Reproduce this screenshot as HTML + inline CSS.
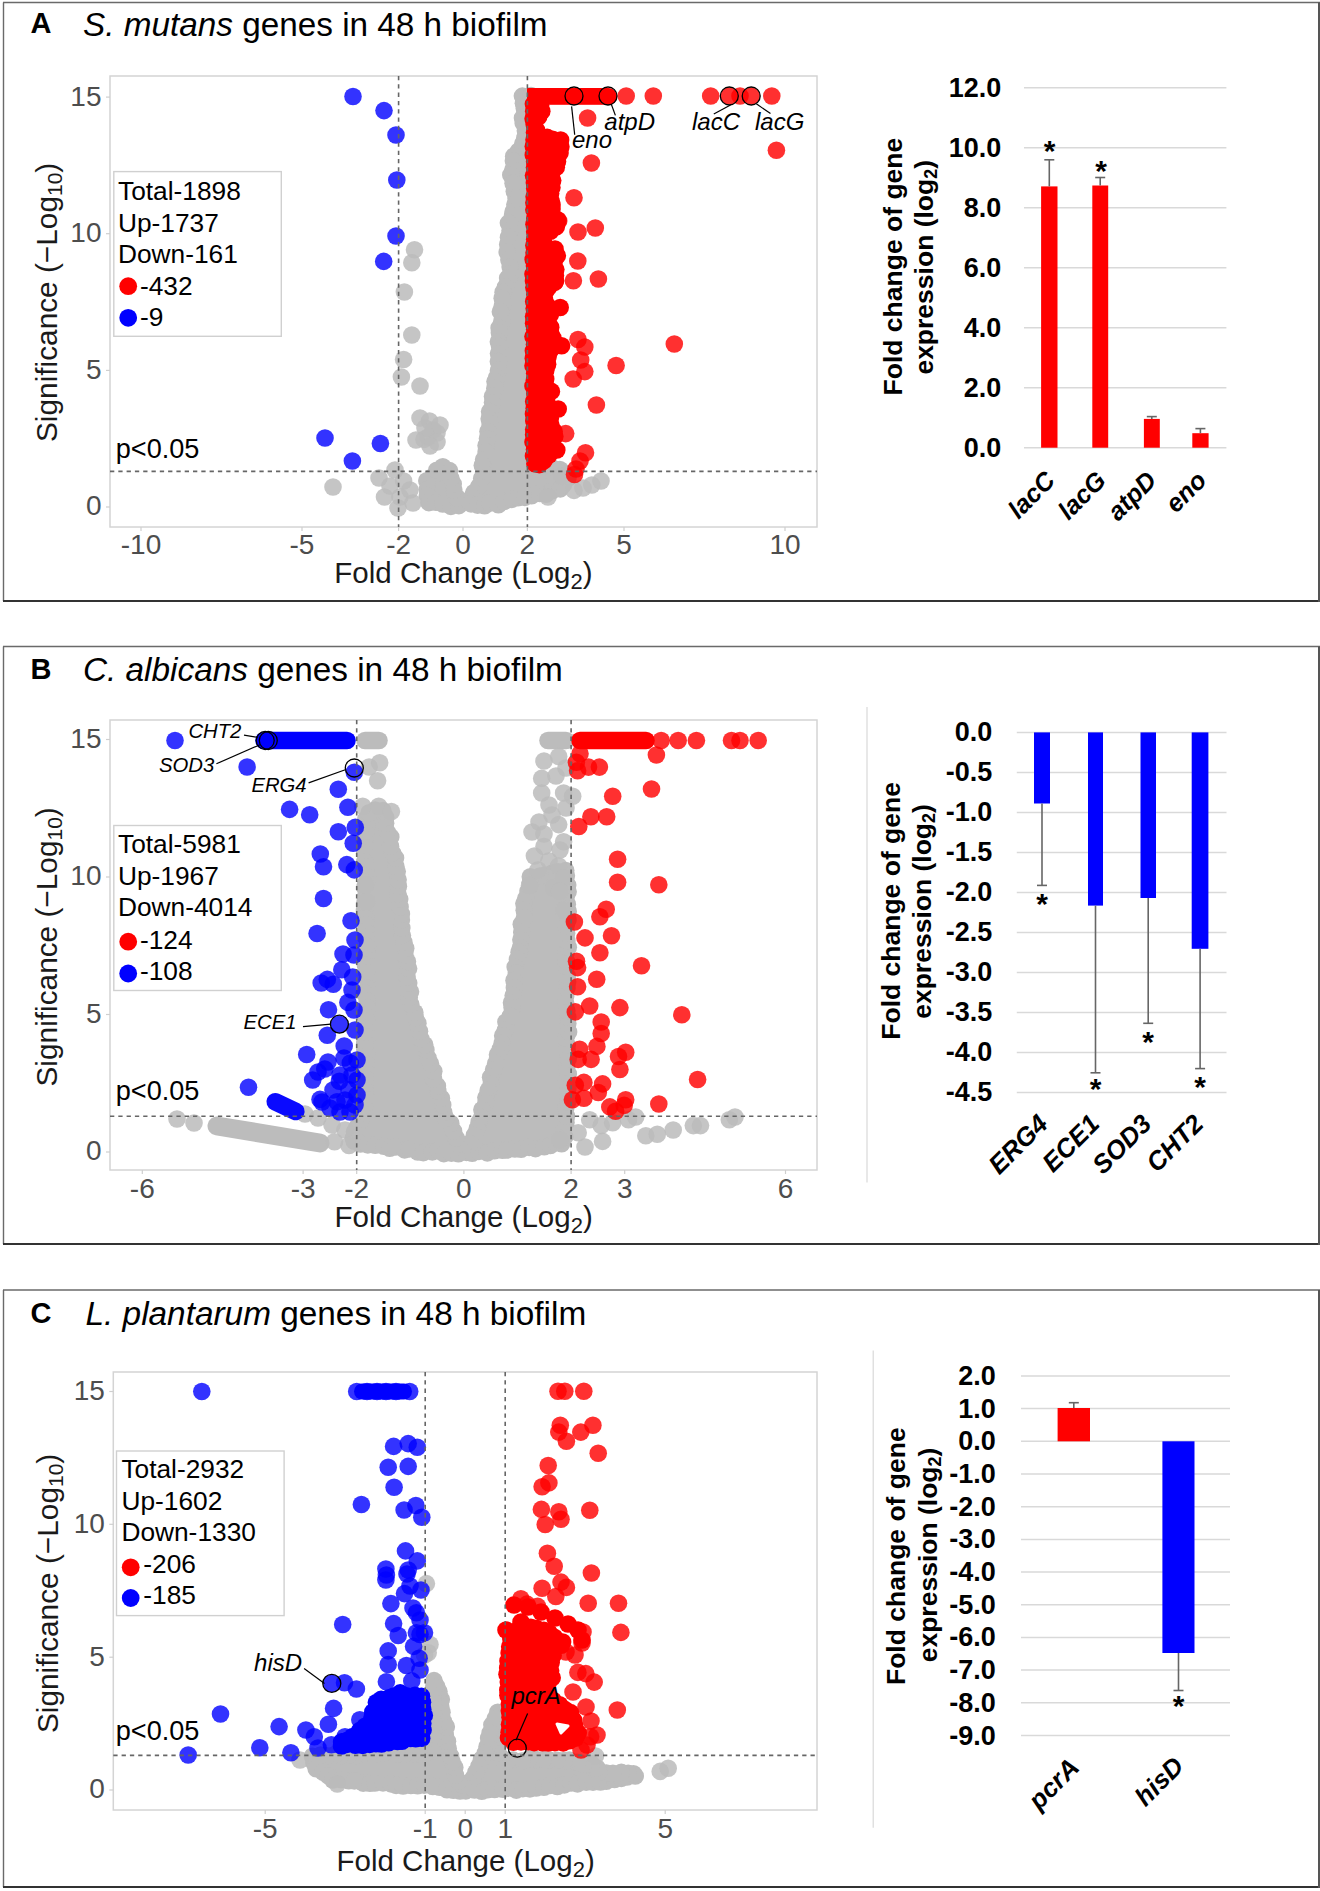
<!DOCTYPE html>
<html><head><meta charset="utf-8"><style>html,body{margin:0;padding:0;background:#fff;width:1320px;height:1891px;overflow:hidden}</style></head>
<body>
<svg width="1320" height="1891" viewBox="0 0 1320 1891" style="display:block;font-family:'Liberation Sans', sans-serif">
<rect width="1320" height="1891" fill="#fff"/>
<line x1="3.0" y1="2.5" x2="1320.0" y2="2.5" stroke="#6a6a6a" stroke-width="1.4"/>
<line x1="3.5" y1="2.5" x2="3.5" y2="601.0" stroke="#6a6a6a" stroke-width="1.4"/>
<line x1="3.0" y1="601.0" x2="1320.0" y2="601.0" stroke="#333" stroke-width="2"/>
<line x1="1319.0" y1="2.5" x2="1319.0" y2="602.0" stroke="#555" stroke-width="2"/>
<text x="30.5" y="33.0" font-size="29" fill="#000" font-weight="bold" >A</text>
<text x="83" y="36.4" font-size="33.3" fill="#000"><tspan font-style="italic">S. mutans</tspan> genes in 48 h biofilm</text>
<clipPath id="cA"><rect x="110" y="76" width="707" height="451"/></clipPath>
<rect x="110.0" y="76.0" width="707.0" height="451.0" fill="none" stroke="#d4d4d4" stroke-width="1.5"/>
<line x1="141.0" y1="527.0" x2="141.0" y2="531.0" stroke="#cfcfcf" stroke-width="1.2"/>
<text x="141.0" y="553.5" font-size="28" fill="#4d4d4d" text-anchor="middle" >-10</text>
<line x1="302.0" y1="527.0" x2="302.0" y2="531.0" stroke="#cfcfcf" stroke-width="1.2"/>
<text x="302.0" y="553.5" font-size="28" fill="#4d4d4d" text-anchor="middle" >-5</text>
<line x1="398.6" y1="527.0" x2="398.6" y2="531.0" stroke="#cfcfcf" stroke-width="1.2"/>
<text x="398.6" y="553.5" font-size="28" fill="#4d4d4d" text-anchor="middle" >-2</text>
<line x1="463.0" y1="527.0" x2="463.0" y2="531.0" stroke="#cfcfcf" stroke-width="1.2"/>
<text x="463.0" y="553.5" font-size="28" fill="#4d4d4d" text-anchor="middle" >0</text>
<line x1="527.4" y1="527.0" x2="527.4" y2="531.0" stroke="#cfcfcf" stroke-width="1.2"/>
<text x="527.4" y="553.5" font-size="28" fill="#4d4d4d" text-anchor="middle" >2</text>
<line x1="624.0" y1="527.0" x2="624.0" y2="531.0" stroke="#cfcfcf" stroke-width="1.2"/>
<text x="624.0" y="553.5" font-size="28" fill="#4d4d4d" text-anchor="middle" >5</text>
<line x1="785.0" y1="527.0" x2="785.0" y2="531.0" stroke="#cfcfcf" stroke-width="1.2"/>
<text x="785.0" y="553.5" font-size="28" fill="#4d4d4d" text-anchor="middle" >10</text>
<line x1="106.0" y1="507.0" x2="110.0" y2="507.0" stroke="#cfcfcf" stroke-width="1.2"/>
<text x="101.5" y="515.4" font-size="28" fill="#4d4d4d" text-anchor="end" >0</text>
<line x1="106.0" y1="370.4" x2="110.0" y2="370.4" stroke="#cfcfcf" stroke-width="1.2"/>
<text x="101.5" y="378.8" font-size="28" fill="#4d4d4d" text-anchor="end" >5</text>
<line x1="106.0" y1="233.7" x2="110.0" y2="233.7" stroke="#cfcfcf" stroke-width="1.2"/>
<text x="101.5" y="242.1" font-size="28" fill="#4d4d4d" text-anchor="end" >10</text>
<line x1="106.0" y1="97.1" x2="110.0" y2="97.1" stroke="#cfcfcf" stroke-width="1.2"/>
<text x="101.5" y="105.5" font-size="28" fill="#4d4d4d" text-anchor="end" >15</text>
<g clip-path="url(#cA)">
<g fill="#bcbcbc"><path d="M431.2,475.4 L426.1,486.4 L427.4,502.1 L440.9,504.1 L457.7,505.5 L458.0,500.9 L455.4,492.3 L455.4,492.1 L448.9,468.5 L442.2,468.1 L431.2,475.4 Z"/><circle cx="432.6" cy="476.7" r="8.8"/><circle cx="426.8" cy="480.7" r="8.8"/><circle cx="427.3" cy="489.5" r="8.8"/><circle cx="427.4" cy="495.4" r="8.8"/><circle cx="428.9" cy="502.6" r="8.8"/><circle cx="436.0" cy="502.3" r="8.8"/><circle cx="442.8" cy="504.0" r="8.8"/><circle cx="450.9" cy="506.4" r="8.8"/><circle cx="458.8" cy="505.6" r="8.8"/><circle cx="457.1" cy="497.8" r="8.8"/><circle cx="453.8" cy="490.1" r="8.8"/><circle cx="453.2" cy="484.0" r="8.8"/><circle cx="451.0" cy="478.7" r="8.8"/><circle cx="449.5" cy="470.6" r="8.8"/><circle cx="442.8" cy="466.7" r="8.8"/><circle cx="436.8" cy="470.2" r="8.8"/></g>
<g fill="#bcbcbc"><path d="M523.1,95.9 L523.9,104.3 L523.9,105.0 L523.9,140.0 L523.9,140.8 L523.8,141.6 L523.6,142.3 L523.3,143.1 L523.0,143.8 L522.6,144.4 L522.1,145.1 L513.6,155.2 L511.0,179.4 L515.7,198.1 L515.8,198.9 L515.9,199.7 L515.9,200.5 L515.8,201.3 L515.6,202.1 L508.9,226.3 L507.4,249.7 L510.1,268.9 L510.2,269.7 L510.2,270.6 L510.1,271.4 L509.9,272.2 L509.6,273.0 L501.9,291.7 L500.6,324.3 L500.6,324.8 L498.6,345.6 L497.2,372.4 L497.1,373.2 L493.8,394.2 L493.8,394.4 L489.6,418.1 L487.7,434.9 L487.6,435.3 L484.2,455.1 L481.5,480.8 L481.4,481.6 L481.2,482.2 L481.0,482.9 L480.7,483.6 L480.3,484.2 L470.1,500.5 L469.3,502.7 L472.8,505.8 L494.7,504.2 L518.1,498.3 L518.7,498.2 L543.3,494.3 L561.3,489.1 L567.7,480.9 L566.7,474.7 L557.9,469.0 L540.4,469.9 L539.6,469.9 L538.9,469.8 L538.1,469.7 L537.4,469.5 L536.7,469.2 L536.1,468.9 L535.4,468.5 L534.8,468.0 L534.3,467.5 L533.8,466.9 L533.3,466.3 L533.0,465.6 L532.6,464.9 L532.4,464.2 L532.2,463.5 L532.1,462.8 L532.1,462.0 L532.1,95.9 L523.1,95.9 Z"/><circle cx="522.4" cy="96.1" r="8.8"/><circle cx="523.4" cy="103.2" r="8.8"/><circle cx="524.3" cy="108.6" r="8.8"/><circle cx="522.5" cy="117.9" r="8.8"/><circle cx="523.2" cy="123.1" r="8.8"/><circle cx="525.4" cy="130.8" r="8.8"/><circle cx="524.9" cy="137.9" r="8.8"/><circle cx="522.8" cy="143.6" r="8.8"/><circle cx="518.4" cy="151.1" r="8.8"/><circle cx="513.7" cy="156.2" r="8.8"/><circle cx="513.4" cy="161.1" r="8.8"/><circle cx="512.9" cy="169.7" r="8.8"/><circle cx="510.8" cy="175.0" r="8.8"/><circle cx="513.1" cy="183.2" r="8.8"/><circle cx="514.3" cy="191.2" r="8.8"/><circle cx="516.0" cy="198.1" r="8.8"/><circle cx="514.9" cy="204.6" r="8.8"/><circle cx="513.1" cy="211.7" r="8.8"/><circle cx="512.5" cy="216.0" r="8.8"/><circle cx="508.4" cy="223.1" r="8.8"/><circle cx="510.0" cy="230.7" r="8.8"/><circle cx="508.5" cy="237.2" r="8.8"/><circle cx="507.7" cy="244.5" r="8.8"/><circle cx="507.2" cy="252.1" r="8.8"/><circle cx="508.9" cy="260.0" r="8.8"/><circle cx="510.2" cy="267.0" r="8.8"/><circle cx="510.8" cy="274.1" r="8.8"/><circle cx="507.6" cy="278.1" r="8.8"/><circle cx="505.5" cy="286.9" r="8.8"/><circle cx="503.1" cy="292.3" r="8.8"/><circle cx="502.2" cy="298.2" r="8.8"/><circle cx="502.3" cy="306.3" r="8.8"/><circle cx="500.4" cy="311.7" r="8.8"/><circle cx="501.8" cy="321.5" r="8.8"/><circle cx="499.1" cy="327.9" r="8.8"/><circle cx="499.4" cy="333.0" r="8.8"/><circle cx="498.4" cy="341.8" r="8.8"/><circle cx="499.6" cy="346.6" r="8.8"/><circle cx="498.5" cy="353.6" r="8.8"/><circle cx="498.4" cy="361.5" r="8.8"/><circle cx="498.5" cy="370.4" r="8.8"/><circle cx="496.7" cy="377.4" r="8.8"/><circle cx="495.0" cy="381.6" r="8.8"/><circle cx="494.8" cy="388.4" r="8.8"/><circle cx="492.5" cy="396.4" r="8.8"/><circle cx="492.5" cy="402.6" r="8.8"/><circle cx="489.6" cy="411.6" r="8.8"/><circle cx="489.2" cy="418.8" r="8.8"/><circle cx="490.1" cy="424.0" r="8.8"/><circle cx="488.0" cy="431.4" r="8.8"/><circle cx="487.5" cy="438.5" r="8.8"/><circle cx="486.1" cy="445.5" r="8.8"/><circle cx="486.1" cy="452.1" r="8.8"/><circle cx="483.6" cy="459.7" r="8.8"/><circle cx="482.3" cy="465.4" r="8.8"/><circle cx="483.8" cy="473.0" r="8.8"/><circle cx="481.7" cy="478.5" r="8.8"/><circle cx="478.7" cy="486.6" r="8.8"/><circle cx="473.8" cy="492.6" r="8.8"/><circle cx="472.0" cy="496.9" r="8.8"/><circle cx="471.1" cy="503.9" r="8.8"/><circle cx="477.6" cy="505.1" r="8.8"/><circle cx="484.6" cy="505.7" r="8.8"/><circle cx="489.6" cy="503.1" r="8.8"/><circle cx="498.4" cy="504.7" r="8.8"/><circle cx="504.0" cy="501.5" r="8.8"/><circle cx="511.8" cy="499.4" r="8.8"/><circle cx="517.9" cy="497.7" r="8.8"/><circle cx="524.8" cy="497.4" r="8.8"/><circle cx="531.5" cy="495.7" r="8.8"/><circle cx="539.9" cy="493.5" r="8.8"/><circle cx="546.1" cy="494.2" r="8.8"/><circle cx="552.1" cy="490.7" r="8.8"/><circle cx="560.3" cy="488.9" r="8.8"/><circle cx="563.4" cy="484.9" r="8.8"/><circle cx="568.0" cy="478.1" r="8.8"/><circle cx="564.1" cy="472.9" r="8.8"/><circle cx="559.8" cy="469.5" r="8.8"/><circle cx="553.0" cy="468.3" r="8.8"/><circle cx="544.5" cy="470.1" r="8.8"/><circle cx="539.1" cy="469.5" r="8.8"/><circle cx="532.0" cy="464.1" r="8.8"/><circle cx="532.2" cy="457.5" r="8.8"/><circle cx="533.0" cy="452.4" r="8.8"/><circle cx="531.1" cy="443.7" r="8.8"/><circle cx="533.0" cy="437.8" r="8.8"/><circle cx="533.0" cy="429.9" r="8.8"/><circle cx="531.0" cy="422.7" r="8.8"/><circle cx="533.0" cy="415.7" r="8.8"/><circle cx="531.6" cy="409.1" r="8.8"/><circle cx="531.8" cy="402.1" r="8.8"/><circle cx="533.3" cy="394.3" r="8.8"/><circle cx="530.6" cy="389.6" r="8.8"/><circle cx="533.2" cy="382.8" r="8.8"/><circle cx="531.9" cy="375.6" r="8.8"/><circle cx="533.4" cy="366.5" r="8.8"/><circle cx="532.8" cy="361.3" r="8.8"/><circle cx="532.6" cy="353.3" r="8.8"/><circle cx="531.4" cy="345.8" r="8.8"/><circle cx="531.3" cy="338.0" r="8.8"/><circle cx="532.3" cy="331.6" r="8.8"/><circle cx="533.0" cy="323.9" r="8.8"/><circle cx="533.3" cy="318.8" r="8.8"/><circle cx="533.4" cy="312.4" r="8.8"/><circle cx="533.3" cy="304.5" r="8.8"/><circle cx="530.6" cy="297.9" r="8.8"/><circle cx="531.1" cy="289.6" r="8.8"/><circle cx="532.6" cy="283.3" r="8.8"/><circle cx="531.8" cy="277.5" r="8.8"/><circle cx="532.4" cy="268.7" r="8.8"/><circle cx="531.3" cy="263.3" r="8.8"/><circle cx="532.0" cy="256.0" r="8.8"/><circle cx="531.6" cy="247.3" r="8.8"/><circle cx="532.2" cy="242.1" r="8.8"/><circle cx="531.1" cy="235.0" r="8.8"/><circle cx="533.3" cy="228.1" r="8.8"/><circle cx="533.1" cy="218.7" r="8.8"/><circle cx="532.5" cy="214.2" r="8.8"/><circle cx="530.7" cy="205.4" r="8.8"/><circle cx="531.4" cy="199.2" r="8.8"/><circle cx="531.8" cy="192.0" r="8.8"/><circle cx="532.9" cy="183.6" r="8.8"/><circle cx="530.7" cy="177.0" r="8.8"/><circle cx="531.0" cy="169.8" r="8.8"/><circle cx="533.5" cy="165.1" r="8.8"/><circle cx="530.8" cy="157.1" r="8.8"/><circle cx="531.5" cy="149.5" r="8.8"/><circle cx="531.6" cy="143.5" r="8.8"/><circle cx="532.3" cy="135.6" r="8.8"/><circle cx="531.2" cy="128.5" r="8.8"/><circle cx="531.0" cy="122.2" r="8.8"/><circle cx="532.7" cy="114.7" r="8.8"/><circle cx="530.8" cy="107.0" r="8.8"/><circle cx="531.7" cy="101.3" r="8.8"/><circle cx="531.0" cy="95.6" r="8.8"/></g>
<g fill="#bbbbbb" fill-opacity="0.85"><circle cx="414.5" cy="249.7" r="8.8"/><circle cx="411.8" cy="262.8" r="8.8"/><circle cx="404.4" cy="292.0" r="8.8"/><circle cx="411.8" cy="335.0" r="8.8"/><circle cx="403.6" cy="359.5" r="8.8"/><circle cx="401.4" cy="377.0" r="8.8"/><circle cx="420.0" cy="386.0" r="8.8"/><circle cx="429.5" cy="421.0" r="8.8"/><circle cx="433.0" cy="430.0" r="8.8"/><circle cx="428.0" cy="437.0" r="8.8"/><circle cx="424.0" cy="439.4" r="8.8"/><circle cx="437.0" cy="433.0" r="8.8"/><circle cx="425.0" cy="428.0" r="8.8"/><circle cx="440.0" cy="425.0" r="8.8"/><circle cx="437.0" cy="442.0" r="8.8"/><circle cx="430.0" cy="446.0" r="8.8"/><circle cx="416.0" cy="440.0" r="8.8"/><circle cx="420.0" cy="418.0" r="8.8"/><circle cx="333.0" cy="487.0" r="8.8"/><circle cx="379.0" cy="478.0" r="8.8"/><circle cx="384.5" cy="497.0" r="8.8"/><circle cx="403.6" cy="481.0" r="8.8"/><circle cx="395.0" cy="470.0" r="8.8"/><circle cx="400.0" cy="497.0" r="8.8"/><circle cx="410.0" cy="490.0" r="8.8"/><circle cx="390.0" cy="486.0" r="8.8"/><circle cx="413.0" cy="503.0" r="8.8"/><circle cx="398.0" cy="508.0" r="8.8"/><circle cx="548.0" cy="497.0" r="8.8"/><circle cx="574.0" cy="490.4" r="8.8"/><circle cx="591.8" cy="485.0" r="8.8"/><circle cx="601.0" cy="481.0" r="8.8"/><circle cx="583.0" cy="488.0" r="8.8"/><circle cx="562.0" cy="476.0" r="8.8"/></g>
<g fill="#0000ff" fill-opacity="0.8"><circle cx="353.0" cy="96.5" r="8.8"/><circle cx="384.0" cy="110.6" r="8.8"/><circle cx="396.0" cy="135.0" r="8.8"/><circle cx="396.8" cy="180.0" r="8.8"/><circle cx="396.0" cy="236.0" r="8.8"/><circle cx="383.7" cy="261.4" r="8.8"/><circle cx="325.0" cy="438.0" r="8.8"/><circle cx="352.4" cy="461.0" r="8.8"/><circle cx="380.4" cy="443.5" r="8.8"/></g>
<rect x="527" y="88" width="81" height="16.8" fill="#ff0000"/><circle cx="608.5" cy="96.4" r="8.5" fill="#ff0000"/>
<g fill="#ff0000"><path d="M533.9,104.9 L533.9,464.8 L542.1,465.6 L550.3,453.3 L551.1,444.3 L551.2,443.6 L551.4,442.8 L551.6,442.2 L551.9,441.5 L552.3,440.9 L552.7,440.2 L557.1,434.4 L553.1,431.2 L552.5,430.7 L551.9,430.1 L551.4,429.4 L551.0,428.7 L550.7,428.0 L550.4,427.3 L550.2,426.5 L550.1,425.7 L550.1,424.9 L550.1,424.1 L551.8,409.7 L546.2,400.0 L545.8,399.3 L545.5,398.5 L545.3,397.7 L545.1,397.0 L545.1,396.1 L545.1,395.3 L546.1,383.5 L547.1,355.7 L547.2,354.9 L547.3,354.1 L547.5,353.3 L547.9,352.6 L548.3,351.8 L548.7,351.2 L549.3,350.6 L549.8,350.0 L553.7,346.7 L552.4,333.3 L547.0,327.2 L546.6,326.6 L546.1,325.9 L545.8,325.3 L545.5,324.5 L545.3,323.8 L545.1,323.0 L545.1,322.2 L545.1,321.5 L545.2,320.7 L545.4,319.9 L545.6,319.2 L545.9,318.5 L546.3,317.8 L546.7,317.2 L547.2,316.6 L547.8,316.0 L548.4,315.5 L549.1,315.1 L552.4,313.2 L552.7,308.7 L549.5,307.1 L548.8,306.7 L548.1,306.2 L547.5,305.7 L547.0,305.1 L546.5,304.5 L546.1,303.8 L545.7,303.1 L545.4,302.4 L545.2,301.6 L545.1,300.8 L545.1,300.0 L545.1,292.0 L545.1,291.2 L545.2,290.5 L545.4,289.7 L545.7,289.0 L546.0,288.3 L546.4,287.7 L546.8,287.0 L547.3,286.5 L547.9,286.0 L548.5,285.5 L549.1,285.1 L549.8,284.7 L550.5,284.5 L551.3,284.3 L554.3,283.6 L555.1,261.7 L555.1,261.0 L555.3,260.4 L555.4,259.7 L555.6,259.1 L557.1,255.5 L556.1,254.9 L555.5,254.6 L555.1,254.2 L545.1,246.2 L544.5,245.7 L543.9,245.1 L543.5,244.5 L543.1,243.8 L542.7,243.1 L542.4,242.4 L542.2,241.6 L542.1,240.8 L542.1,240.0 L542.1,239.3 L542.2,238.5 L542.4,237.7 L542.7,237.0 L543.0,236.3 L543.4,235.6 L543.9,235.0 L544.4,234.4 L545.0,233.9 L545.6,233.4 L555.4,226.9 L557.6,220.8 L554.2,218.3 L553.7,217.9 L553.1,217.3 L552.7,216.7 L552.2,216.1 L551.9,215.4 L551.6,214.7 L551.3,214.0 L551.2,213.3 L551.1,212.5 L551.1,211.8 L552.1,175.8 L552.1,175.0 L552.3,174.3 L552.5,173.6 L552.7,172.9 L553.0,172.2 L558.3,162.6 L559.1,155.1 L559.3,154.3 L561.6,143.2 L560.0,140.3 L543.8,137.8 L543.1,137.7 L542.3,137.5 L541.6,137.2 L540.9,136.8 L540.3,136.4 L539.7,135.9 L539.1,135.3 L538.6,134.7 L538.2,134.1 L535.2,129.1 L534.9,128.4 L534.6,127.7 L534.3,127.0 L534.2,126.3 L534.1,125.5 L534.1,124.8 L534.1,124.0 L534.3,123.3 L534.5,122.6 L534.7,121.9 L535.1,121.2 L535.4,120.6 L535.9,120.0 L536.4,119.4 L541.1,114.7 L541.1,104.9 L533.9,104.9 Z"/><circle cx="533.4" cy="104.1" r="8.8"/><circle cx="533.7" cy="111.3" r="8.8"/><circle cx="533.1" cy="118.8" r="8.8"/><circle cx="534.8" cy="126.6" r="8.8"/><circle cx="534.5" cy="132.5" r="8.8"/><circle cx="534.0" cy="139.7" r="8.8"/><circle cx="533.3" cy="146.4" r="8.8"/><circle cx="533.3" cy="155.0" r="8.8"/><circle cx="534.6" cy="161.8" r="8.8"/><circle cx="534.5" cy="167.6" r="8.8"/><circle cx="533.5" cy="175.6" r="8.8"/><circle cx="534.4" cy="183.0" r="8.8"/><circle cx="534.7" cy="188.5" r="8.8"/><circle cx="534.1" cy="196.8" r="8.8"/><circle cx="533.9" cy="202.8" r="8.8"/><circle cx="533.9" cy="209.7" r="8.8"/><circle cx="534.8" cy="218.3" r="8.8"/><circle cx="534.0" cy="224.2" r="8.8"/><circle cx="534.7" cy="231.7" r="8.8"/><circle cx="534.7" cy="239.3" r="8.8"/><circle cx="533.9" cy="245.5" r="8.8"/><circle cx="534.1" cy="252.6" r="8.8"/><circle cx="533.2" cy="259.4" r="8.8"/><circle cx="534.5" cy="265.9" r="8.8"/><circle cx="533.0" cy="274.1" r="8.8"/><circle cx="533.5" cy="280.9" r="8.8"/><circle cx="533.9" cy="287.6" r="8.8"/><circle cx="534.9" cy="294.3" r="8.8"/><circle cx="533.7" cy="301.4" r="8.8"/><circle cx="534.2" cy="308.6" r="8.8"/><circle cx="533.6" cy="316.5" r="8.8"/><circle cx="533.6" cy="323.2" r="8.8"/><circle cx="534.7" cy="329.3" r="8.8"/><circle cx="533.0" cy="336.6" r="8.8"/><circle cx="534.5" cy="344.4" r="8.8"/><circle cx="533.4" cy="350.9" r="8.8"/><circle cx="533.3" cy="358.2" r="8.8"/><circle cx="533.0" cy="365.7" r="8.8"/><circle cx="534.7" cy="373.3" r="8.8"/><circle cx="534.4" cy="380.3" r="8.8"/><circle cx="533.0" cy="386.0" r="8.8"/><circle cx="534.9" cy="394.0" r="8.8"/><circle cx="533.7" cy="401.4" r="8.8"/><circle cx="534.2" cy="408.2" r="8.8"/><circle cx="533.5" cy="414.0" r="8.8"/><circle cx="533.8" cy="420.9" r="8.8"/><circle cx="533.7" cy="429.6" r="8.8"/><circle cx="533.6" cy="434.7" r="8.8"/><circle cx="533.0" cy="442.1" r="8.8"/><circle cx="534.5" cy="449.5" r="8.8"/><circle cx="533.5" cy="456.0" r="8.8"/><circle cx="534.9" cy="463.7" r="8.8"/><circle cx="539.4" cy="464.6" r="8.8"/><circle cx="543.9" cy="460.9" r="8.8"/><circle cx="549.0" cy="455.0" r="8.8"/><circle cx="549.8" cy="449.1" r="8.8"/><circle cx="551.1" cy="443.2" r="8.8"/><circle cx="554.8" cy="436.5" r="8.8"/><circle cx="554.1" cy="431.4" r="8.8"/><circle cx="551.1" cy="425.6" r="8.8"/><circle cx="550.3" cy="418.5" r="8.8"/><circle cx="550.7" cy="411.5" r="8.8"/><circle cx="548.8" cy="406.1" r="8.8"/><circle cx="546.4" cy="399.2" r="8.8"/><circle cx="544.4" cy="391.8" r="8.8"/><circle cx="545.4" cy="384.7" r="8.8"/><circle cx="545.7" cy="379.0" r="8.8"/><circle cx="545.8" cy="370.3" r="8.8"/><circle cx="547.6" cy="364.3" r="8.8"/><circle cx="548.0" cy="357.0" r="8.8"/><circle cx="550.0" cy="351.0" r="8.8"/><circle cx="554.2" cy="346.2" r="8.8"/><circle cx="552.9" cy="337.9" r="8.8"/><circle cx="550.7" cy="332.8" r="8.8"/><circle cx="547.5" cy="327.6" r="8.8"/><circle cx="545.0" cy="320.4" r="8.8"/><circle cx="550.2" cy="315.1" r="8.8"/><circle cx="553.3" cy="309.5" r="8.8"/><circle cx="547.6" cy="305.9" r="8.8"/><circle cx="544.6" cy="299.9" r="8.8"/><circle cx="546.0" cy="291.1" r="8.8"/><circle cx="549.0" cy="286.8" r="8.8"/><circle cx="554.7" cy="282.4" r="8.8"/><circle cx="555.4" cy="275.5" r="8.8"/><circle cx="555.8" cy="269.6" r="8.8"/><circle cx="554.2" cy="261.5" r="8.8"/><circle cx="557.3" cy="255.7" r="8.8"/><circle cx="552.0" cy="252.2" r="8.8"/><circle cx="545.4" cy="245.9" r="8.8"/><circle cx="543.0" cy="240.3" r="8.8"/><circle cx="544.9" cy="233.9" r="8.8"/><circle cx="550.4" cy="231.2" r="8.8"/><circle cx="556.3" cy="226.7" r="8.8"/><circle cx="557.6" cy="219.7" r="8.8"/><circle cx="552.2" cy="215.1" r="8.8"/><circle cx="552.0" cy="209.1" r="8.8"/><circle cx="551.3" cy="201.5" r="8.8"/><circle cx="550.6" cy="193.5" r="8.8"/><circle cx="551.9" cy="187.4" r="8.8"/><circle cx="552.7" cy="180.6" r="8.8"/><circle cx="551.8" cy="173.1" r="8.8"/><circle cx="556.3" cy="167.2" r="8.8"/><circle cx="557.5" cy="161.4" r="8.8"/><circle cx="560.0" cy="153.0" r="8.8"/><circle cx="560.9" cy="146.7" r="8.8"/><circle cx="560.6" cy="140.0" r="8.8"/><circle cx="552.6" cy="139.2" r="8.8"/><circle cx="547.1" cy="137.4" r="8.8"/><circle cx="538.9" cy="136.1" r="8.8"/><circle cx="536.6" cy="130.1" r="8.8"/><circle cx="534.1" cy="124.1" r="8.8"/><circle cx="538.7" cy="116.8" r="8.8"/><circle cx="541.8" cy="111.2" r="8.8"/><circle cx="540.6" cy="105.6" r="8.8"/></g>
<g fill="#ff0000"><circle cx="539.4" cy="110.3" r="8.8"/><circle cx="556.0" cy="141.0" r="8.8"/><circle cx="553.0" cy="166.0" r="8.8"/><circle cx="552.0" cy="205.0" r="8.8"/><circle cx="548.0" cy="221.0" r="8.8"/><circle cx="558.0" cy="221.0" r="8.8"/><circle cx="555.0" cy="249.0" r="8.8"/></g>
<g fill="#ff0000"><circle cx="555.5" cy="281.0" r="8.8"/><circle cx="560.2" cy="307.5" r="8.8"/><circle cx="550.7" cy="327.3" r="8.8"/><circle cx="561.6" cy="345.7" r="8.8"/><circle cx="546.0" cy="366.8" r="8.8"/><circle cx="551.4" cy="391.4" r="8.8"/><circle cx="558.2" cy="409.0" r="8.8"/><circle cx="552.7" cy="432.3" r="8.8"/><circle cx="556.8" cy="450.0" r="8.8"/></g>
<g fill="#ff0000" fill-opacity="0.81"><circle cx="626.2" cy="96.0" r="8.8"/><circle cx="653.3" cy="96.0" r="8.8"/><circle cx="710.7" cy="96.0" r="8.8"/><circle cx="729.3" cy="96.0" r="8.8"/><circle cx="740.0" cy="96.0" r="8.8"/><circle cx="751.2" cy="96.0" r="8.8"/><circle cx="771.8" cy="96.0" r="8.8"/><circle cx="776.4" cy="150.2" r="8.8"/><circle cx="587.6" cy="118.0" r="8.8"/><circle cx="591.4" cy="163.0" r="8.8"/><circle cx="574.0" cy="197.8" r="8.8"/><circle cx="558.7" cy="221.0" r="8.8"/><circle cx="578.0" cy="232.0" r="8.8"/><circle cx="595.3" cy="228.0" r="8.8"/><circle cx="577.8" cy="261.0" r="8.8"/><circle cx="598.4" cy="279.0" r="8.8"/><circle cx="573.4" cy="280.8" r="8.8"/><circle cx="578.0" cy="339.5" r="8.8"/><circle cx="584.8" cy="347.0" r="8.8"/><circle cx="580.7" cy="360.0" r="8.8"/><circle cx="584.8" cy="371.6" r="8.8"/><circle cx="573.2" cy="379.0" r="8.8"/><circle cx="616.1" cy="365.5" r="8.8"/><circle cx="596.4" cy="405.0" r="8.8"/><circle cx="565.7" cy="433.6" r="8.8"/><circle cx="585.5" cy="452.7" r="8.8"/><circle cx="580.0" cy="461.0" r="8.8"/><circle cx="576.0" cy="469.0" r="8.8"/><circle cx="574.5" cy="474.5" r="8.8"/><circle cx="674.3" cy="344.0" r="8.8"/></g>
<circle cx="574" cy="96" r="9" fill="none" stroke="#000" stroke-width="1.3"/>
<circle cx="608" cy="96" r="9" fill="none" stroke="#000" stroke-width="1.3"/>
<circle cx="729.3" cy="96" r="9" fill="none" stroke="#000" stroke-width="1.3"/>
<circle cx="751.2" cy="96" r="9" fill="none" stroke="#000" stroke-width="1.3"/>
<line x1="574.7" y1="134.7" x2="571.6" y2="106.4" stroke="#000" stroke-width="1.2"/>
<line x1="615.4" y1="115.4" x2="611.3" y2="104.3" stroke="#000" stroke-width="1.2"/>
<line x1="713.8" y1="114.0" x2="730.5" y2="105.0" stroke="#000" stroke-width="1.2"/>
<line x1="770.5" y1="113.6" x2="756.3" y2="103.8" stroke="#000" stroke-width="1.2"/>
<text x="572.0" y="147.6" font-size="24" fill="#000" font-style="italic" >eno</text>
<text x="604.3" y="129.5" font-size="24" fill="#000" font-style="italic" >atpD</text>
<text x="692.0" y="129.5" font-size="24" fill="#000" font-style="italic" >lacC</text>
<text x="755.0" y="129.5" font-size="24" fill="#000" font-style="italic" >lacG</text>
</g>
<line x1="398.6" y1="76.0" x2="398.6" y2="527.0" stroke="#666" stroke-width="1.6" stroke-dasharray="4.3,4"/>
<line x1="527.4" y1="76.0" x2="527.4" y2="527.0" stroke="#666" stroke-width="1.6" stroke-dasharray="4.3,4"/>
<line x1="110.0" y1="471.4" x2="817.0" y2="471.4" stroke="#666" stroke-width="1.6" stroke-dasharray="4.3,4"/>
<text x="334.3" y="582.7" font-size="29.5" fill="#1a1a1a">Fold Change (Log<tspan font-size="22" dy="6">2</tspan><tspan dy="-6">)</tspan></text>
<text x="57" y="442" font-size="29.8" fill="#1a1a1a" transform="rotate(-90 57 442)">Significance (−Log<tspan font-size="21" dy="5">10</tspan><tspan dy="-5">)</tspan></text>
<text x="115.8" y="457.5" font-size="27.1" fill="#000" >p&lt;0.05</text>
<rect x="113.8" y="171.6" width="167.5" height="164.7" fill="none" stroke="#d0d0d0" stroke-width="1.4"/>
<text x="118.0" y="200.0" font-size="26.3" fill="#000" >Total-1898</text>
<text x="118.0" y="231.6" font-size="26.3" fill="#000" >Up-1737</text>
<text x="118.0" y="263.2" font-size="26.3" fill="#000" >Down-161</text>
<circle cx="128.2" cy="286.2" r="8.9" fill="#ff0000"/>
<text x="139.9" y="294.5" font-size="26.3" fill="#000" >-432</text>
<circle cx="128.2" cy="317.8" r="8.9" fill="#0000ff"/>
<text x="139.9" y="326.0" font-size="26.3" fill="#000" >-9</text>
<line x1="1024.0" y1="447.7" x2="1226.4" y2="447.7" stroke="#d9d9d9" stroke-width="1.5"/>
<text x="1001.4" y="456.7" font-size="27" fill="#000" font-weight="bold" text-anchor="end" >0.0</text>
<line x1="1024.0" y1="387.7" x2="1226.4" y2="387.7" stroke="#d9d9d9" stroke-width="1.5"/>
<text x="1001.4" y="396.7" font-size="27" fill="#000" font-weight="bold" text-anchor="end" >2.0</text>
<line x1="1024.0" y1="327.7" x2="1226.4" y2="327.7" stroke="#d9d9d9" stroke-width="1.5"/>
<text x="1001.4" y="336.7" font-size="27" fill="#000" font-weight="bold" text-anchor="end" >4.0</text>
<line x1="1024.0" y1="267.7" x2="1226.4" y2="267.7" stroke="#d9d9d9" stroke-width="1.5"/>
<text x="1001.4" y="276.7" font-size="27" fill="#000" font-weight="bold" text-anchor="end" >6.0</text>
<line x1="1024.0" y1="207.7" x2="1226.4" y2="207.7" stroke="#d9d9d9" stroke-width="1.5"/>
<text x="1001.4" y="216.7" font-size="27" fill="#000" font-weight="bold" text-anchor="end" >8.0</text>
<line x1="1024.0" y1="147.7" x2="1226.4" y2="147.7" stroke="#d9d9d9" stroke-width="1.5"/>
<text x="1001.4" y="156.7" font-size="27" fill="#000" font-weight="bold" text-anchor="end" >10.0</text>
<line x1="1024.0" y1="87.7" x2="1226.4" y2="87.7" stroke="#d9d9d9" stroke-width="1.5"/>
<text x="1001.4" y="96.7" font-size="27" fill="#000" font-weight="bold" text-anchor="end" >12.0</text>
<rect x="1041.1" y="186.4" width="16.4" height="261.3" fill="#ff0000"/>
<line x1="1049.3" y1="186.4" x2="1049.3" y2="159.8" stroke="#666" stroke-width="1.6"/>
<line x1="1044.3" y1="159.8" x2="1054.3" y2="159.8" stroke="#666" stroke-width="1.6"/>
<rect x="1092.3" y="185.5" width="15.9" height="262.2" fill="#ff0000"/>
<line x1="1100.2" y1="185.5" x2="1100.2" y2="177.5" stroke="#666" stroke-width="1.6"/>
<line x1="1095.2" y1="177.5" x2="1105.2" y2="177.5" stroke="#666" stroke-width="1.6"/>
<rect x="1143.9" y="418.9" width="15.9" height="28.8" fill="#ff0000"/>
<line x1="1151.8" y1="418.9" x2="1151.8" y2="416.6" stroke="#666" stroke-width="1.6"/>
<line x1="1146.8" y1="416.6" x2="1156.8" y2="416.6" stroke="#666" stroke-width="1.6"/>
<rect x="1192.3" y="433.2" width="16.3" height="14.5" fill="#ff0000"/>
<line x1="1200.4" y1="433.2" x2="1200.4" y2="428.6" stroke="#666" stroke-width="1.6"/>
<line x1="1195.4" y1="428.6" x2="1205.4" y2="428.6" stroke="#666" stroke-width="1.6"/>
<text x="1049.5" y="161.0" font-size="30" fill="#000" font-weight="bold" text-anchor="middle" >*</text>
<text x="1101.0" y="180.5" font-size="30" fill="#000" font-weight="bold" text-anchor="middle" >*</text>
<text x="901.7" y="395.4" font-size="26.5" font-weight="bold" transform="rotate(-90 901.7 395.4)">Fold change of gene</text>
<text x="932.7" y="374.6" font-size="26.5" font-weight="bold" transform="rotate(-90 932.7 374.6)">expression (log<tspan font-size="18" dy="4">2</tspan><tspan dy="-4">)</tspan></text>
<text x="1056.6" y="482" font-size="25.5" font-weight="bold" font-style="italic" text-anchor="end" transform="rotate(-45 1056.6 482)">lacC</text>
<text x="1107.5" y="482" font-size="25.5" font-weight="bold" font-style="italic" text-anchor="end" transform="rotate(-45 1107.5 482)">lacG</text>
<text x="1158" y="482" font-size="25.5" font-weight="bold" font-style="italic" text-anchor="end" transform="rotate(-45 1158 482)">atpD</text>
<text x="1208" y="482" font-size="25.5" font-weight="bold" font-style="italic" text-anchor="end" transform="rotate(-45 1208 482)">eno</text>
<line x1="3.0" y1="646.5" x2="1320.0" y2="646.5" stroke="#6a6a6a" stroke-width="1.4"/>
<line x1="3.5" y1="646.5" x2="3.5" y2="1244.0" stroke="#6a6a6a" stroke-width="1.4"/>
<line x1="3.0" y1="1244.0" x2="1320.0" y2="1244.0" stroke="#333" stroke-width="2"/>
<line x1="1319.0" y1="646.5" x2="1319.0" y2="1245.0" stroke="#555" stroke-width="2"/>
<text x="30.5" y="679.0" font-size="29" fill="#000" font-weight="bold" >B</text>
<text x="83" y="680.9" font-size="33.35"><tspan font-style="italic">C. albicans</tspan> genes in 48 h biofilm</text>
<clipPath id="cB"><rect x="110" y="720" width="707" height="450"/></clipPath>
<rect x="110.0" y="720.0" width="707.0" height="450.0" fill="none" stroke="#d4d4d4" stroke-width="1.5"/>
<line x1="142.3" y1="1170.0" x2="142.3" y2="1174.0" stroke="#cfcfcf" stroke-width="1.2"/>
<text x="142.3" y="1197.5" font-size="28" fill="#4d4d4d" text-anchor="middle" >-6</text>
<line x1="303.1" y1="1170.0" x2="303.1" y2="1174.0" stroke="#cfcfcf" stroke-width="1.2"/>
<text x="303.1" y="1197.5" font-size="28" fill="#4d4d4d" text-anchor="middle" >-3</text>
<line x1="356.7" y1="1170.0" x2="356.7" y2="1174.0" stroke="#cfcfcf" stroke-width="1.2"/>
<text x="356.7" y="1197.5" font-size="28" fill="#4d4d4d" text-anchor="middle" >-2</text>
<line x1="463.9" y1="1170.0" x2="463.9" y2="1174.0" stroke="#cfcfcf" stroke-width="1.2"/>
<text x="463.9" y="1197.5" font-size="28" fill="#4d4d4d" text-anchor="middle" >0</text>
<line x1="571.1" y1="1170.0" x2="571.1" y2="1174.0" stroke="#cfcfcf" stroke-width="1.2"/>
<text x="571.1" y="1197.5" font-size="28" fill="#4d4d4d" text-anchor="middle" >2</text>
<line x1="624.7" y1="1170.0" x2="624.7" y2="1174.0" stroke="#cfcfcf" stroke-width="1.2"/>
<text x="624.7" y="1197.5" font-size="28" fill="#4d4d4d" text-anchor="middle" >3</text>
<line x1="785.5" y1="1170.0" x2="785.5" y2="1174.0" stroke="#cfcfcf" stroke-width="1.2"/>
<text x="785.5" y="1197.5" font-size="28" fill="#4d4d4d" text-anchor="middle" >6</text>
<line x1="106.0" y1="1152.0" x2="110.0" y2="1152.0" stroke="#cfcfcf" stroke-width="1.2"/>
<text x="101.5" y="1160.4" font-size="28" fill="#4d4d4d" text-anchor="end" >0</text>
<line x1="106.0" y1="1014.5" x2="110.0" y2="1014.5" stroke="#cfcfcf" stroke-width="1.2"/>
<text x="101.5" y="1022.9" font-size="28" fill="#4d4d4d" text-anchor="end" >5</text>
<line x1="106.0" y1="877.0" x2="110.0" y2="877.0" stroke="#cfcfcf" stroke-width="1.2"/>
<text x="101.5" y="885.4" font-size="28" fill="#4d4d4d" text-anchor="end" >10</text>
<line x1="106.0" y1="739.5" x2="110.0" y2="739.5" stroke="#cfcfcf" stroke-width="1.2"/>
<text x="101.5" y="747.9" font-size="28" fill="#4d4d4d" text-anchor="end" >15</text>
<g clip-path="url(#cB)">
<g fill="#bcbcbc"><path d="M365.9,819.0 L365.9,1100.0 L365.9,1100.8 L365.8,1101.6 L365.5,1102.4 L357.5,1127.4 L357.2,1128.3 L351.1,1141.6 L357.5,1143.2 L420.7,1151.1 L465.0,1153.1 L519.2,1150.1 L563.0,1143.1 L567.1,1114.4 L567.1,871.0 L546.6,873.8 L530.5,878.4 L527.2,891.5 L518.8,951.1 L510.8,1009.1 L510.7,1009.7 L510.6,1010.3 L493.6,1067.1 L480.7,1119.9 L480.5,1120.6 L480.2,1121.3 L471.2,1141.3 L470.9,1142.0 L470.4,1142.6 L469.9,1143.2 L469.4,1143.8 L468.8,1144.3 L468.1,1144.8 L467.4,1145.1 L466.7,1145.4 L465.9,1145.7 L465.2,1145.8 L464.4,1145.9 L463.6,1145.9 L462.8,1145.8 L462.0,1145.7 L461.3,1145.4 L460.5,1145.1 L459.8,1144.7 L459.2,1144.3 L458.6,1143.8 L458.0,1143.2 L457.6,1142.6 L457.1,1141.9 L456.8,1141.2 L446.1,1117.2 L445.7,1116.2 L431.3,1067.4 L422.5,1042.6 L422.4,1042.2 L410.9,1002.2 L410.7,1001.5 L410.6,1000.8 L402.1,920.9 L397.9,886.0 L393.7,854.5 L383.3,812.1 L374.5,809.2 L365.9,819.0 Z"/><circle cx="365.8" cy="819.2" r="8.8"/><circle cx="367.2" cy="825.9" r="8.8"/><circle cx="365.9" cy="833.2" r="8.8"/><circle cx="365.0" cy="840.0" r="8.8"/><circle cx="366.3" cy="847.9" r="8.8"/><circle cx="364.7" cy="853.4" r="8.8"/><circle cx="364.7" cy="861.9" r="8.8"/><circle cx="366.5" cy="866.6" r="8.8"/><circle cx="367.4" cy="876.4" r="8.8"/><circle cx="366.4" cy="882.3" r="8.8"/><circle cx="364.9" cy="887.5" r="8.8"/><circle cx="366.0" cy="894.7" r="8.8"/><circle cx="365.0" cy="902.2" r="8.8"/><circle cx="364.5" cy="909.9" r="8.8"/><circle cx="365.7" cy="918.0" r="8.8"/><circle cx="366.0" cy="924.4" r="8.8"/><circle cx="365.9" cy="931.5" r="8.8"/><circle cx="365.8" cy="937.3" r="8.8"/><circle cx="367.4" cy="946.5" r="8.8"/><circle cx="366.9" cy="952.6" r="8.8"/><circle cx="365.4" cy="958.2" r="8.8"/><circle cx="365.3" cy="964.7" r="8.8"/><circle cx="366.7" cy="972.7" r="8.8"/><circle cx="367.0" cy="979.7" r="8.8"/><circle cx="367.3" cy="988.0" r="8.8"/><circle cx="364.4" cy="993.1" r="8.8"/><circle cx="367.2" cy="1000.9" r="8.8"/><circle cx="367.4" cy="1007.7" r="8.8"/><circle cx="364.6" cy="1015.4" r="8.8"/><circle cx="366.8" cy="1021.3" r="8.8"/><circle cx="364.7" cy="1028.5" r="8.8"/><circle cx="367.3" cy="1036.8" r="8.8"/><circle cx="364.8" cy="1042.2" r="8.8"/><circle cx="364.7" cy="1048.7" r="8.8"/><circle cx="366.8" cy="1056.0" r="8.8"/><circle cx="366.1" cy="1063.9" r="8.8"/><circle cx="365.0" cy="1071.7" r="8.8"/><circle cx="364.8" cy="1078.4" r="8.8"/><circle cx="364.8" cy="1084.8" r="8.8"/><circle cx="365.1" cy="1091.3" r="8.8"/><circle cx="367.3" cy="1099.9" r="8.8"/><circle cx="363.9" cy="1107.0" r="8.8"/><circle cx="361.5" cy="1112.2" r="8.8"/><circle cx="361.3" cy="1119.6" r="8.8"/><circle cx="356.9" cy="1127.3" r="8.8"/><circle cx="354.5" cy="1131.6" r="8.8"/><circle cx="353.3" cy="1138.1" r="8.8"/><circle cx="354.2" cy="1141.2" r="8.8"/><circle cx="360.4" cy="1144.0" r="8.8"/><circle cx="367.8" cy="1144.9" r="8.8"/><circle cx="375.2" cy="1145.3" r="8.8"/><circle cx="383.9" cy="1146.3" r="8.8"/><circle cx="389.7" cy="1148.3" r="8.8"/><circle cx="395.4" cy="1147.0" r="8.8"/><circle cx="404.6" cy="1149.9" r="8.8"/><circle cx="409.5" cy="1148.9" r="8.8"/><circle cx="417.9" cy="1152.0" r="8.8"/><circle cx="423.3" cy="1152.6" r="8.8"/><circle cx="432.3" cy="1151.9" r="8.8"/><circle cx="438.0" cy="1150.7" r="8.8"/><circle cx="443.8" cy="1153.6" r="8.8"/><circle cx="451.4" cy="1153.1" r="8.8"/><circle cx="458.4" cy="1153.8" r="8.8"/><circle cx="466.5" cy="1152.4" r="8.8"/><circle cx="472.2" cy="1153.3" r="8.8"/><circle cx="478.9" cy="1151.4" r="8.8"/><circle cx="487.3" cy="1152.9" r="8.8"/><circle cx="494.5" cy="1150.8" r="8.8"/><circle cx="502.4" cy="1150.2" r="8.8"/><circle cx="506.7" cy="1150.0" r="8.8"/><circle cx="514.9" cy="1149.0" r="8.8"/><circle cx="521.1" cy="1149.3" r="8.8"/><circle cx="529.2" cy="1147.4" r="8.8"/><circle cx="535.5" cy="1148.6" r="8.8"/><circle cx="544.2" cy="1146.8" r="8.8"/><circle cx="550.3" cy="1145.5" r="8.8"/><circle cx="555.5" cy="1142.7" r="8.8"/><circle cx="561.6" cy="1143.8" r="8.8"/><circle cx="564.7" cy="1137.0" r="8.8"/><circle cx="563.6" cy="1129.1" r="8.8"/><circle cx="566.0" cy="1122.4" r="8.8"/><circle cx="566.5" cy="1116.3" r="8.8"/><circle cx="565.8" cy="1108.0" r="8.8"/><circle cx="567.8" cy="1102.0" r="8.8"/><circle cx="567.8" cy="1094.4" r="8.8"/><circle cx="568.0" cy="1088.1" r="8.8"/><circle cx="566.6" cy="1080.4" r="8.8"/><circle cx="568.3" cy="1073.9" r="8.8"/><circle cx="566.8" cy="1066.7" r="8.8"/><circle cx="568.2" cy="1059.0" r="8.8"/><circle cx="567.5" cy="1051.5" r="8.8"/><circle cx="567.3" cy="1045.1" r="8.8"/><circle cx="565.8" cy="1038.2" r="8.8"/><circle cx="568.6" cy="1032.0" r="8.8"/><circle cx="567.8" cy="1023.5" r="8.8"/><circle cx="567.8" cy="1017.1" r="8.8"/><circle cx="566.9" cy="1010.8" r="8.8"/><circle cx="565.8" cy="1003.6" r="8.8"/><circle cx="565.7" cy="996.1" r="8.8"/><circle cx="567.0" cy="988.0" r="8.8"/><circle cx="567.7" cy="981.8" r="8.8"/><circle cx="567.4" cy="976.1" r="8.8"/><circle cx="566.3" cy="966.3" r="8.8"/><circle cx="566.5" cy="961.3" r="8.8"/><circle cx="566.2" cy="952.8" r="8.8"/><circle cx="568.3" cy="947.3" r="8.8"/><circle cx="566.9" cy="941.0" r="8.8"/><circle cx="566.6" cy="933.3" r="8.8"/><circle cx="566.2" cy="925.6" r="8.8"/><circle cx="568.0" cy="920.0" r="8.8"/><circle cx="568.2" cy="911.5" r="8.8"/><circle cx="567.3" cy="904.2" r="8.8"/><circle cx="566.0" cy="897.8" r="8.8"/><circle cx="568.1" cy="891.8" r="8.8"/><circle cx="567.7" cy="885.1" r="8.8"/><circle cx="566.4" cy="875.8" r="8.8"/><circle cx="565.7" cy="870.5" r="8.8"/><circle cx="558.0" cy="871.9" r="8.8"/><circle cx="552.3" cy="873.0" r="8.8"/><circle cx="544.5" cy="875.2" r="8.8"/><circle cx="539.8" cy="876.0" r="8.8"/><circle cx="530.3" cy="876.7" r="8.8"/><circle cx="530.2" cy="882.7" r="8.8"/><circle cx="528.0" cy="891.1" r="8.8"/><circle cx="525.7" cy="898.7" r="8.8"/><circle cx="523.9" cy="903.6" r="8.8"/><circle cx="524.2" cy="910.2" r="8.8"/><circle cx="524.4" cy="917.8" r="8.8"/><circle cx="521.3" cy="924.2" r="8.8"/><circle cx="521.8" cy="932.3" r="8.8"/><circle cx="520.9" cy="939.8" r="8.8"/><circle cx="520.4" cy="947.7" r="8.8"/><circle cx="519.1" cy="952.3" r="8.8"/><circle cx="517.5" cy="959.2" r="8.8"/><circle cx="515.2" cy="967.0" r="8.8"/><circle cx="516.3" cy="973.1" r="8.8"/><circle cx="514.0" cy="980.5" r="8.8"/><circle cx="514.4" cy="988.0" r="8.8"/><circle cx="513.2" cy="995.6" r="8.8"/><circle cx="511.5" cy="1002.7" r="8.8"/><circle cx="512.1" cy="1007.5" r="8.8"/><circle cx="510.3" cy="1016.1" r="8.8"/><circle cx="505.9" cy="1022.0" r="8.8"/><circle cx="505.4" cy="1030.1" r="8.8"/><circle cx="502.7" cy="1035.8" r="8.8"/><circle cx="502.2" cy="1043.2" r="8.8"/><circle cx="500.4" cy="1048.9" r="8.8"/><circle cx="497.5" cy="1054.8" r="8.8"/><circle cx="495.7" cy="1063.4" r="8.8"/><circle cx="493.6" cy="1069.8" r="8.8"/><circle cx="490.6" cy="1077.2" r="8.8"/><circle cx="491.2" cy="1084.2" r="8.8"/><circle cx="488.2" cy="1090.4" r="8.8"/><circle cx="485.9" cy="1097.6" r="8.8"/><circle cx="485.9" cy="1102.7" r="8.8"/><circle cx="481.9" cy="1109.8" r="8.8"/><circle cx="481.6" cy="1117.6" r="8.8"/><circle cx="479.2" cy="1122.0" r="8.8"/><circle cx="477.3" cy="1128.5" r="8.8"/><circle cx="474.4" cy="1135.2" r="8.8"/><circle cx="470.0" cy="1143.3" r="8.8"/><circle cx="463.6" cy="1144.8" r="8.8"/><circle cx="458.4" cy="1144.2" r="8.8"/><circle cx="456.1" cy="1137.9" r="8.8"/><circle cx="453.5" cy="1131.0" r="8.8"/><circle cx="450.7" cy="1123.3" r="8.8"/><circle cx="445.7" cy="1118.3" r="8.8"/><circle cx="443.7" cy="1112.2" r="8.8"/><circle cx="442.7" cy="1104.9" r="8.8"/><circle cx="441.4" cy="1098.3" r="8.8"/><circle cx="437.8" cy="1091.0" r="8.8"/><circle cx="437.4" cy="1085.9" r="8.8"/><circle cx="433.5" cy="1079.0" r="8.8"/><circle cx="433.8" cy="1071.3" r="8.8"/><circle cx="430.5" cy="1063.7" r="8.8"/><circle cx="428.0" cy="1058.0" r="8.8"/><circle cx="425.9" cy="1050.0" r="8.8"/><circle cx="424.7" cy="1044.8" r="8.8"/><circle cx="420.9" cy="1039.0" r="8.8"/><circle cx="419.5" cy="1031.3" r="8.8"/><circle cx="417.9" cy="1023.3" r="8.8"/><circle cx="415.5" cy="1017.7" r="8.8"/><circle cx="414.8" cy="1012.5" r="8.8"/><circle cx="410.8" cy="1004.4" r="8.8"/><circle cx="409.2" cy="997.4" r="8.8"/><circle cx="410.5" cy="991.8" r="8.8"/><circle cx="408.7" cy="983.1" r="8.8"/><circle cx="407.1" cy="977.1" r="8.8"/><circle cx="408.6" cy="968.6" r="8.8"/><circle cx="407.4" cy="961.4" r="8.8"/><circle cx="404.9" cy="955.0" r="8.8"/><circle cx="405.7" cy="948.3" r="8.8"/><circle cx="403.9" cy="942.3" r="8.8"/><circle cx="402.4" cy="935.6" r="8.8"/><circle cx="401.8" cy="928.0" r="8.8"/><circle cx="401.4" cy="920.1" r="8.8"/><circle cx="401.4" cy="913.9" r="8.8"/><circle cx="400.1" cy="906.9" r="8.8"/><circle cx="399.7" cy="899.1" r="8.8"/><circle cx="397.9" cy="893.6" r="8.8"/><circle cx="398.4" cy="886.3" r="8.8"/><circle cx="398.1" cy="879.7" r="8.8"/><circle cx="397.2" cy="871.6" r="8.8"/><circle cx="395.9" cy="866.4" r="8.8"/><circle cx="395.5" cy="858.0" r="8.8"/><circle cx="392.5" cy="852.9" r="8.8"/><circle cx="390.5" cy="846.3" r="8.8"/><circle cx="390.8" cy="836.9" r="8.8"/><circle cx="387.2" cy="831.9" r="8.8"/><circle cx="385.6" cy="823.2" r="8.8"/><circle cx="385.7" cy="817.4" r="8.8"/><circle cx="382.9" cy="810.6" r="8.8"/><circle cx="375.1" cy="810.0" r="8.8"/><circle cx="369.1" cy="812.8" r="8.8"/></g>
<line x1="365.0" y1="740.5" x2="379.0" y2="740.5" stroke="#bcbcbc" stroke-width="17.6" stroke-linecap="round"/>
<line x1="548.0" y1="740.5" x2="566.0" y2="740.5" stroke="#bcbcbc" stroke-width="17.6" stroke-linecap="round"/>
<g fill="#bbbbbb" fill-opacity="0.85"><circle cx="544.0" cy="761.0" r="8.8"/><circle cx="558.7" cy="756.5" r="8.8"/><circle cx="541.7" cy="778.4" r="8.8"/><circle cx="556.0" cy="776.0" r="8.8"/><circle cx="563.6" cy="793.0" r="8.8"/><circle cx="541.7" cy="793.0" r="8.8"/><circle cx="549.0" cy="805.0" r="8.8"/><circle cx="539.0" cy="822.0" r="8.8"/><circle cx="532.0" cy="832.0" r="8.8"/><circle cx="544.0" cy="834.0" r="8.8"/><circle cx="558.7" cy="824.6" r="8.8"/><circle cx="563.6" cy="841.7" r="8.8"/><circle cx="544.0" cy="846.5" r="8.8"/><circle cx="534.4" cy="856.0" r="8.8"/><circle cx="549.0" cy="861.0" r="8.8"/><circle cx="558.7" cy="866.0" r="8.8"/><circle cx="529.5" cy="885.5" r="8.8"/><circle cx="553.8" cy="888.0" r="8.8"/><circle cx="563.6" cy="878.0" r="8.8"/><circle cx="552.0" cy="815.0" r="8.8"/><circle cx="560.0" cy="850.0" r="8.8"/><circle cx="566.0" cy="808.0" r="8.8"/><circle cx="566.0" cy="768.0" r="8.8"/><circle cx="538.0" cy="870.0" r="8.8"/></g>
<g fill="#bbbbbb" fill-opacity="0.85"><circle cx="369.1" cy="767.0" r="8.8"/><circle cx="379.7" cy="762.7" r="8.8"/><circle cx="377.6" cy="780.8" r="8.8"/><circle cx="378.7" cy="806.2" r="8.8"/><circle cx="391.4" cy="811.5" r="8.8"/><circle cx="362.7" cy="806.2" r="8.8"/><circle cx="365.5" cy="884.9" r="8.8"/><circle cx="366.5" cy="901.8" r="8.8"/><circle cx="559.6" cy="891.2" r="8.8"/><circle cx="563.8" cy="910.3" r="8.8"/><circle cx="572.7" cy="796.2" r="8.8"/></g>
<line x1="217" y1="1126" x2="320" y2="1143" stroke="#bcbcbc" stroke-width="19" stroke-linecap="round"/>
<g fill="#bbbbbb" fill-opacity="0.85"><circle cx="177.0" cy="1119.0" r="8.8"/><circle cx="194.0" cy="1123.0" r="8.8"/><circle cx="305.0" cy="1114.0" r="8.8"/><circle cx="318.0" cy="1118.0" r="8.8"/><circle cx="332.0" cy="1125.0" r="8.8"/><circle cx="345.0" cy="1130.0" r="8.8"/><circle cx="334.5" cy="1141.8" r="8.8"/><circle cx="349.0" cy="1145.5" r="8.8"/></g>
<g fill="#bbbbbb" fill-opacity="0.85"><circle cx="589.7" cy="1119.8" r="8.8"/><circle cx="601.2" cy="1125.6" r="8.8"/><circle cx="612.7" cy="1122.7" r="8.8"/><circle cx="628.5" cy="1119.8" r="8.8"/><circle cx="635.7" cy="1117.0" r="8.8"/><circle cx="578.2" cy="1132.8" r="8.8"/><circle cx="602.6" cy="1141.4" r="8.8"/><circle cx="645.8" cy="1135.7" r="8.8"/><circle cx="657.3" cy="1134.2" r="8.8"/><circle cx="673.2" cy="1130.0" r="8.8"/><circle cx="693.3" cy="1125.6" r="8.8"/><circle cx="700.5" cy="1125.6" r="8.8"/><circle cx="729.3" cy="1119.8" r="8.8"/><circle cx="735.0" cy="1117.0" r="8.8"/><circle cx="560.0" cy="1140.0" r="8.8"/><circle cx="585.0" cy="1147.0" r="8.8"/></g>
<line x1="264.0" y1="740.5" x2="347.0" y2="740.5" stroke="#0000ff" stroke-width="17.6" stroke-linecap="round"/>
<g fill="#0000ff" fill-opacity="0.8"><circle cx="175.0" cy="740.5" r="8.8"/><circle cx="247.1" cy="767.0" r="8.8"/><circle cx="354.3" cy="772.3" r="8.8"/><circle cx="338.3" cy="789.2" r="8.8"/><circle cx="347.9" cy="807.3" r="8.8"/><circle cx="289.6" cy="809.4" r="8.8"/><circle cx="309.7" cy="814.7" r="8.8"/><circle cx="338.3" cy="831.7" r="8.8"/><circle cx="355.3" cy="827.4" r="8.8"/><circle cx="353.2" cy="843.3" r="8.8"/><circle cx="320.3" cy="854.0" r="8.8"/><circle cx="323.5" cy="866.7" r="8.8"/><circle cx="346.8" cy="864.6" r="8.8"/><circle cx="354.3" cy="869.9" r="8.8"/><circle cx="323.5" cy="898.5" r="8.8"/><circle cx="351.0" cy="920.8" r="8.8"/><circle cx="317.1" cy="933.5" r="8.8"/><circle cx="343.0" cy="954.0" r="8.8"/><circle cx="354.0" cy="955.0" r="8.8"/><circle cx="341.8" cy="969.7" r="8.8"/><circle cx="327.3" cy="979.4" r="8.8"/><circle cx="321.2" cy="983.0" r="8.8"/><circle cx="333.3" cy="984.2" r="8.8"/><circle cx="352.7" cy="977.0" r="8.8"/><circle cx="347.9" cy="1002.4" r="8.8"/><circle cx="328.5" cy="1009.7" r="8.8"/><circle cx="339.4" cy="1024.2" r="8.8"/><circle cx="327.3" cy="1035.2" r="8.8"/><circle cx="344.2" cy="1046.0" r="8.8"/><circle cx="306.7" cy="1054.5" r="8.8"/><circle cx="350.3" cy="1063.0" r="8.8"/><circle cx="324.8" cy="1069.0" r="8.8"/><circle cx="312.7" cy="1080.0" r="8.8"/><circle cx="339.4" cy="1081.2" r="8.8"/><circle cx="320.0" cy="1099.4" r="8.8"/><circle cx="337.0" cy="1101.8" r="8.8"/><circle cx="349.0" cy="1089.7" r="8.8"/><circle cx="248.5" cy="1087.3" r="8.8"/><circle cx="355.0" cy="1030.0" r="8.8"/><circle cx="354.0" cy="1010.0" r="8.8"/><circle cx="352.0" cy="990.0" r="8.8"/><circle cx="355.0" cy="940.0" r="8.8"/></g>
<line x1="275.2" y1="1101.8" x2="295.8" y2="1111.5" stroke="#0a0aff" stroke-width="17.6" stroke-linecap="round"/>
<g fill="#0000ff" fill-opacity="0.8"><circle cx="328.0" cy="1062.0" r="8.8"/><circle cx="340.0" cy="1075.0" r="8.8"/><circle cx="352.0" cy="1075.0" r="8.8"/><circle cx="333.0" cy="1090.0" r="8.8"/><circle cx="345.0" cy="1100.0" r="8.8"/><circle cx="355.0" cy="1105.0" r="8.8"/><circle cx="322.0" cy="1102.0" r="8.8"/><circle cx="330.0" cy="1108.0" r="8.8"/><circle cx="340.0" cy="1112.0" r="8.8"/><circle cx="350.0" cy="1112.0" r="8.8"/><circle cx="357.0" cy="1095.0" r="8.8"/><circle cx="357.0" cy="1080.0" r="8.8"/><circle cx="357.0" cy="1060.0" r="8.8"/><circle cx="344.0" cy="1058.0" r="8.8"/><circle cx="318.0" cy="1072.0" r="8.8"/></g>
<line x1="580.0" y1="740.5" x2="646.0" y2="740.5" stroke="#ff0000" stroke-width="17.6" stroke-linecap="round"/>
<g fill="#ff0000" fill-opacity="0.81"><circle cx="661.2" cy="740.5" r="8.8"/><circle cx="678.2" cy="740.5" r="8.8"/><circle cx="696.4" cy="740.5" r="8.8"/><circle cx="731.5" cy="740.5" r="8.8"/><circle cx="740.0" cy="740.5" r="8.8"/><circle cx="758.2" cy="740.5" r="8.8"/><circle cx="656.4" cy="755.0" r="8.8"/><circle cx="580.0" cy="753.8" r="8.8"/><circle cx="576.4" cy="762.3" r="8.8"/><circle cx="588.5" cy="767.1" r="8.8"/><circle cx="599.4" cy="767.1" r="8.8"/><circle cx="577.6" cy="770.8" r="8.8"/><circle cx="651.5" cy="789.0" r="8.8"/><circle cx="612.7" cy="796.2" r="8.8"/><circle cx="590.9" cy="816.8" r="8.8"/><circle cx="606.7" cy="816.8" r="8.8"/><circle cx="578.8" cy="826.5" r="8.8"/><circle cx="617.6" cy="859.2" r="8.8"/><circle cx="617.6" cy="882.3" r="8.8"/><circle cx="658.8" cy="884.7" r="8.8"/><circle cx="606.2" cy="909.2" r="8.8"/><circle cx="599.9" cy="916.7" r="8.8"/><circle cx="574.4" cy="922.0" r="8.8"/><circle cx="585.0" cy="937.9" r="8.8"/><circle cx="611.5" cy="935.8" r="8.8"/><circle cx="599.9" cy="952.7" r="8.8"/><circle cx="576.5" cy="961.2" r="8.8"/><circle cx="577.6" cy="967.6" r="8.8"/><circle cx="596.7" cy="979.3" r="8.8"/><circle cx="577.6" cy="986.7" r="8.8"/><circle cx="641.5" cy="965.8" r="8.8"/><circle cx="575.3" cy="1011.9" r="8.8"/><circle cx="589.7" cy="1006.0" r="8.8"/><circle cx="619.9" cy="1007.6" r="8.8"/><circle cx="681.8" cy="1014.8" r="8.8"/><circle cx="601.2" cy="1022.0" r="8.8"/><circle cx="601.2" cy="1033.5" r="8.8"/><circle cx="596.9" cy="1046.4" r="8.8"/><circle cx="579.6" cy="1049.3" r="8.8"/><circle cx="578.2" cy="1059.4" r="8.8"/><circle cx="591.1" cy="1059.4" r="8.8"/><circle cx="618.5" cy="1056.5" r="8.8"/><circle cx="625.7" cy="1052.2" r="8.8"/><circle cx="619.9" cy="1069.5" r="8.8"/><circle cx="697.6" cy="1079.5" r="8.8"/><circle cx="575.3" cy="1085.3" r="8.8"/><circle cx="583.9" cy="1082.4" r="8.8"/><circle cx="602.6" cy="1083.9" r="8.8"/><circle cx="598.3" cy="1092.5" r="8.8"/><circle cx="572.4" cy="1099.7" r="8.8"/><circle cx="583.9" cy="1098.2" r="8.8"/><circle cx="625.7" cy="1099.7" r="8.8"/><circle cx="609.8" cy="1106.9" r="8.8"/><circle cx="624.2" cy="1105.4" r="8.8"/><circle cx="658.8" cy="1104.0" r="8.8"/><circle cx="615.6" cy="1111.2" r="8.8"/></g>
<circle cx="265.2" cy="740.5" r="9" fill="none" stroke="#000" stroke-width="1.3"/>
<circle cx="268.3" cy="740.5" r="9" fill="none" stroke="#000" stroke-width="1.3"/>
<circle cx="354.3" cy="768" r="9" fill="none" stroke="#000" stroke-width="1.3"/>
<circle cx="339.4" cy="1024.2" r="9" fill="none" stroke="#000" stroke-width="1.3"/>
<line x1="244.0" y1="735.2" x2="257.7" y2="737.3" stroke="#000" stroke-width="1.2"/>
<line x1="216.4" y1="763.8" x2="259.9" y2="744.7" stroke="#000" stroke-width="1.2"/>
<line x1="308.6" y1="782.9" x2="345.3" y2="769.7" stroke="#000" stroke-width="1.2"/>
<line x1="303.0" y1="1026.7" x2="331.0" y2="1024.2" stroke="#000" stroke-width="1.2"/>
<text x="188.4" y="738.0" font-size="20.3" fill="#000" font-style="italic" >CHT2</text>
<text x="159.0" y="772.3" font-size="20.3" fill="#000" font-style="italic" >SOD3</text>
<text x="251.4" y="792.4" font-size="20.3" fill="#000" font-style="italic" >ERG4</text>
<text x="243.6" y="1029.0" font-size="20.3" fill="#000" font-style="italic" >ECE1</text>
</g>
<line x1="356.7" y1="720.0" x2="356.7" y2="1170.0" stroke="#666" stroke-width="1.6" stroke-dasharray="4.3,4"/>
<line x1="571.1" y1="720.0" x2="571.1" y2="1170.0" stroke="#666" stroke-width="1.6" stroke-dasharray="4.3,4"/>
<line x1="110.0" y1="1116.2" x2="817.0" y2="1116.2" stroke="#666" stroke-width="1.6" stroke-dasharray="4.3,4"/>
<text x="334.5" y="1226.7" font-size="29.5" fill="#1a1a1a">Fold Change (Log<tspan font-size="22" dy="6">2</tspan><tspan dy="-6">)</tspan></text>
<text x="57" y="1086.5" font-size="29.8" fill="#1a1a1a" transform="rotate(-90 57 1086.5)">Significance (−Log<tspan font-size="21" dy="5">10</tspan><tspan dy="-5">)</tspan></text>
<text x="115.8" y="1100.0" font-size="27.1" fill="#000" >p&lt;0.05</text>
<rect x="113.8" y="825.5" width="167.5" height="165.0" fill="none" stroke="#d0d0d0" stroke-width="1.4"/>
<text x="118.0" y="853.0" font-size="26.3" fill="#000" >Total-5981</text>
<text x="118.0" y="884.7" font-size="26.3" fill="#000" >Up-1967</text>
<text x="118.0" y="916.4" font-size="26.3" fill="#000" >Down-4014</text>
<circle cx="128.2" cy="941.7" r="8.9" fill="#ff0000"/>
<text x="139.9" y="948.5" font-size="26.3" fill="#000" >-124</text>
<circle cx="128.2" cy="973.5" r="8.9" fill="#0000ff"/>
<text x="139.9" y="980.3" font-size="26.3" fill="#000" >-108</text>
<line x1="867.0" y1="707.0" x2="867.0" y2="1182.6" stroke="#d9d9d9" stroke-width="1.2"/>
<line x1="1016.8" y1="732.4" x2="1226.5" y2="732.4" stroke="#d9d9d9" stroke-width="1.5"/>
<text x="992.4" y="741.4" font-size="27" fill="#000" font-weight="bold" text-anchor="end" >0.0</text>
<line x1="1016.8" y1="772.4" x2="1226.5" y2="772.4" stroke="#d9d9d9" stroke-width="1.5"/>
<text x="992.4" y="781.4" font-size="27" fill="#000" font-weight="bold" text-anchor="end" >-0.5</text>
<line x1="1016.8" y1="812.4" x2="1226.5" y2="812.4" stroke="#d9d9d9" stroke-width="1.5"/>
<text x="992.4" y="821.4" font-size="27" fill="#000" font-weight="bold" text-anchor="end" >-1.0</text>
<line x1="1016.8" y1="852.4" x2="1226.5" y2="852.4" stroke="#d9d9d9" stroke-width="1.5"/>
<text x="992.4" y="861.4" font-size="27" fill="#000" font-weight="bold" text-anchor="end" >-1.5</text>
<line x1="1016.8" y1="892.4" x2="1226.5" y2="892.4" stroke="#d9d9d9" stroke-width="1.5"/>
<text x="992.4" y="901.4" font-size="27" fill="#000" font-weight="bold" text-anchor="end" >-2.0</text>
<line x1="1016.8" y1="932.4" x2="1226.5" y2="932.4" stroke="#d9d9d9" stroke-width="1.5"/>
<text x="992.4" y="941.4" font-size="27" fill="#000" font-weight="bold" text-anchor="end" >-2.5</text>
<line x1="1016.8" y1="972.4" x2="1226.5" y2="972.4" stroke="#d9d9d9" stroke-width="1.5"/>
<text x="992.4" y="981.4" font-size="27" fill="#000" font-weight="bold" text-anchor="end" >-3.0</text>
<line x1="1016.8" y1="1012.4" x2="1226.5" y2="1012.4" stroke="#d9d9d9" stroke-width="1.5"/>
<text x="992.4" y="1021.4" font-size="27" fill="#000" font-weight="bold" text-anchor="end" >-3.5</text>
<line x1="1016.8" y1="1052.4" x2="1226.5" y2="1052.4" stroke="#d9d9d9" stroke-width="1.5"/>
<text x="992.4" y="1061.4" font-size="27" fill="#000" font-weight="bold" text-anchor="end" >-4.0</text>
<line x1="1016.8" y1="1092.4" x2="1226.5" y2="1092.4" stroke="#d9d9d9" stroke-width="1.5"/>
<text x="992.4" y="1101.4" font-size="27" fill="#000" font-weight="bold" text-anchor="end" >-4.5</text>
<rect x="1034.0" y="732.4" width="16.0" height="71.1" fill="#0000ff"/>
<line x1="1042.0" y1="803.5" x2="1042.0" y2="885.4" stroke="#666" stroke-width="1.6"/>
<line x1="1037.0" y1="885.4" x2="1047.0" y2="885.4" stroke="#666" stroke-width="1.6"/>
<rect x="1088.0" y="732.4" width="15.0" height="173.2" fill="#0000ff"/>
<line x1="1095.5" y1="905.6" x2="1095.5" y2="1072.8" stroke="#666" stroke-width="1.6"/>
<line x1="1090.5" y1="1072.8" x2="1100.5" y2="1072.8" stroke="#666" stroke-width="1.6"/>
<rect x="1140.5" y="732.4" width="15.5" height="165.6" fill="#0000ff"/>
<line x1="1148.2" y1="898.0" x2="1148.2" y2="1023.3" stroke="#666" stroke-width="1.6"/>
<line x1="1143.2" y1="1023.3" x2="1153.2" y2="1023.3" stroke="#666" stroke-width="1.6"/>
<rect x="1191.7" y="732.4" width="16.7" height="216.4" fill="#0000ff"/>
<line x1="1200.1" y1="948.8" x2="1200.1" y2="1068.6" stroke="#666" stroke-width="1.6"/>
<line x1="1195.1" y1="1068.6" x2="1205.1" y2="1068.6" stroke="#666" stroke-width="1.6"/>
<text x="1042.0" y="914.0" font-size="30" fill="#000" font-weight="bold" text-anchor="middle" >*</text>
<text x="1095.5" y="1098.8" font-size="30" fill="#000" font-weight="bold" text-anchor="middle" >*</text>
<text x="1148.0" y="1051.7" font-size="30" fill="#000" font-weight="bold" text-anchor="middle" >*</text>
<text x="1200.0" y="1097.0" font-size="30" fill="#000" font-weight="bold" text-anchor="middle" >*</text>
<text x="900" y="1039.7" font-size="26.5" font-weight="bold" transform="rotate(-90 900 1039.7)">Fold change of gene</text>
<text x="931" y="1018.8" font-size="26.5" font-weight="bold" transform="rotate(-90 931 1018.8)">expression (log<tspan font-size="18" dy="4">2</tspan><tspan dy="-4">)</tspan></text>
<text x="1049.4" y="1125.4" font-size="26" font-weight="bold" font-style="italic" text-anchor="end" transform="rotate(-45 1049.4 1125.4)">ERG4</text>
<text x="1101" y="1125.4" font-size="26" font-weight="bold" font-style="italic" text-anchor="end" transform="rotate(-45 1101 1125.4)">ECE1</text>
<text x="1153" y="1125.4" font-size="26" font-weight="bold" font-style="italic" text-anchor="end" transform="rotate(-45 1153 1125.4)">SOD3</text>
<text x="1205" y="1125.4" font-size="26" font-weight="bold" font-style="italic" text-anchor="end" transform="rotate(-45 1205 1125.4)">CHT2</text>
<line x1="3.0" y1="1290.0" x2="1320.0" y2="1290.0" stroke="#6a6a6a" stroke-width="1.4"/>
<line x1="3.5" y1="1290.0" x2="3.5" y2="1887.0" stroke="#6a6a6a" stroke-width="1.4"/>
<line x1="3.0" y1="1887.0" x2="1320.0" y2="1887.0" stroke="#333" stroke-width="2"/>
<line x1="1319.0" y1="1290.0" x2="1319.0" y2="1888.0" stroke="#555" stroke-width="2"/>
<text x="30.5" y="1323.0" font-size="29" fill="#000" font-weight="bold" >C</text>
<text x="85.5" y="1325.3" font-size="33.37"><tspan font-style="italic">L. plantarum</tspan> genes in 48 h biofilm</text>
<clipPath id="cC"><rect x="113.3" y="1372" width="703.7" height="438"/></clipPath>
<rect x="113.3" y="1372.0" width="703.7" height="438.0" fill="none" stroke="#d4d4d4" stroke-width="1.5"/>
<line x1="265.2" y1="1810.0" x2="265.2" y2="1814.0" stroke="#cfcfcf" stroke-width="1.2"/>
<text x="265.2" y="1837.5" font-size="28" fill="#4d4d4d" text-anchor="middle" >-5</text>
<line x1="425.2" y1="1810.0" x2="425.2" y2="1814.0" stroke="#cfcfcf" stroke-width="1.2"/>
<text x="425.2" y="1837.5" font-size="28" fill="#4d4d4d" text-anchor="middle" >-1</text>
<line x1="465.2" y1="1810.0" x2="465.2" y2="1814.0" stroke="#cfcfcf" stroke-width="1.2"/>
<text x="465.2" y="1837.5" font-size="28" fill="#4d4d4d" text-anchor="middle" >0</text>
<line x1="505.2" y1="1810.0" x2="505.2" y2="1814.0" stroke="#cfcfcf" stroke-width="1.2"/>
<text x="505.2" y="1837.5" font-size="28" fill="#4d4d4d" text-anchor="middle" >1</text>
<line x1="665.2" y1="1810.0" x2="665.2" y2="1814.0" stroke="#cfcfcf" stroke-width="1.2"/>
<text x="665.2" y="1837.5" font-size="28" fill="#4d4d4d" text-anchor="middle" >5</text>
<line x1="109.3" y1="1790.0" x2="113.3" y2="1790.0" stroke="#cfcfcf" stroke-width="1.2"/>
<text x="104.9" y="1798.4" font-size="28" fill="#4d4d4d" text-anchor="end" >0</text>
<line x1="109.3" y1="1657.2" x2="113.3" y2="1657.2" stroke="#cfcfcf" stroke-width="1.2"/>
<text x="104.9" y="1665.6" font-size="28" fill="#4d4d4d" text-anchor="end" >5</text>
<line x1="109.3" y1="1524.3" x2="113.3" y2="1524.3" stroke="#cfcfcf" stroke-width="1.2"/>
<text x="104.9" y="1532.7" font-size="28" fill="#4d4d4d" text-anchor="end" >10</text>
<line x1="109.3" y1="1391.5" x2="113.3" y2="1391.5" stroke="#cfcfcf" stroke-width="1.2"/>
<text x="104.9" y="1399.9" font-size="28" fill="#4d4d4d" text-anchor="end" >15</text>
<g clip-path="url(#cC)">
<g fill="#bcbcbc"><path d="M313.3,1755.7 L313.7,1765.8 L333.8,1780.3 L369.5,1783.1 L423.4,1786.1 L423.9,1786.1 L464.8,1791.1 L533.9,1788.1 L597.1,1781.1 L635.8,1776.6 L636.9,1774.6 L635.8,1773.0 L604.2,1773.9 L603.4,1773.9 L602.7,1773.8 L601.9,1773.6 L601.2,1773.4 L600.5,1773.1 L599.8,1772.7 L599.1,1772.3 L598.6,1771.8 L598.0,1771.2 L597.5,1770.6 L597.1,1769.9 L596.8,1769.2 L596.5,1768.5 L596.3,1767.8 L596.1,1767.0 L596.1,1766.2 L596.1,1765.4 L596.1,1765.2 L595.2,1764.6 L565.4,1759.9 L506.0,1759.9 L505.2,1759.9 L504.4,1759.8 L503.7,1759.6 L503.0,1759.3 L502.3,1759.0 L501.6,1758.6 L501.0,1758.1 L500.4,1757.6 L499.9,1757.0 L499.4,1756.4 L499.0,1755.7 L498.7,1755.0 L498.4,1754.3 L498.2,1753.5 L498.1,1752.7 L498.1,1752.0 L498.3,1711.2 L491.1,1729.8 L482.1,1761.2 L481.8,1762.0 L481.5,1762.7 L471.5,1781.7 L471.1,1782.4 L470.6,1783.0 L470.1,1783.6 L469.5,1784.1 L468.9,1784.6 L468.2,1785.0 L467.5,1785.3 L466.7,1785.6 L466.0,1785.8 L465.2,1785.9 L464.4,1785.9 L463.6,1785.9 L462.8,1785.7 L462.1,1785.5 L461.3,1785.3 L460.6,1784.9 L460.0,1784.5 L459.3,1784.0 L458.8,1783.5 L458.2,1782.9 L457.8,1782.2 L457.4,1781.5 L457.1,1780.8 L456.8,1780.0 L449.3,1752.0 L449.2,1751.3 L444.2,1721.3 L444.2,1721.3 L440.3,1697.1 L433.9,1680.3 L433.9,1745.0 L433.9,1745.8 L433.8,1746.5 L433.6,1747.3 L433.3,1748.0 L433.0,1748.7 L432.6,1749.3 L432.2,1750.0 L431.7,1750.5 L431.1,1751.1 L430.5,1751.5 L429.9,1751.9 L429.2,1752.3 L428.5,1752.5 L427.7,1752.7 L427.0,1752.9 L426.2,1752.9 L313.3,1755.7 Z"/><circle cx="312.5" cy="1756.2" r="8.8"/><circle cx="313.9" cy="1762.7" r="8.8"/><circle cx="316.2" cy="1768.8" r="8.8"/><circle cx="323.3" cy="1772.2" r="8.8"/><circle cx="328.3" cy="1775.7" r="8.8"/><circle cx="332.8" cy="1780.0" r="8.8"/><circle cx="341.2" cy="1779.8" r="8.8"/><circle cx="348.7" cy="1780.8" r="8.8"/><circle cx="354.3" cy="1780.9" r="8.8"/><circle cx="363.2" cy="1783.1" r="8.8"/><circle cx="369.9" cy="1783.3" r="8.8"/><circle cx="374.8" cy="1783.0" r="8.8"/><circle cx="383.0" cy="1782.9" r="8.8"/><circle cx="391.1" cy="1783.9" r="8.8"/><circle cx="396.1" cy="1785.4" r="8.8"/><circle cx="403.1" cy="1786.0" r="8.8"/><circle cx="410.9" cy="1785.5" r="8.8"/><circle cx="417.6" cy="1785.8" r="8.8"/><circle cx="424.2" cy="1785.1" r="8.8"/><circle cx="432.8" cy="1786.5" r="8.8"/><circle cx="439.6" cy="1787.2" r="8.8"/><circle cx="447.0" cy="1789.7" r="8.8"/><circle cx="453.4" cy="1790.2" r="8.8"/><circle cx="460.0" cy="1791.0" r="8.8"/><circle cx="465.8" cy="1790.9" r="8.8"/><circle cx="474.5" cy="1790.0" r="8.8"/><circle cx="481.8" cy="1791.3" r="8.8"/><circle cx="487.5" cy="1789.8" r="8.8"/><circle cx="494.6" cy="1789.5" r="8.8"/><circle cx="502.9" cy="1789.2" r="8.8"/><circle cx="507.6" cy="1788.2" r="8.8"/><circle cx="516.3" cy="1790.1" r="8.8"/><circle cx="522.8" cy="1788.6" r="8.8"/><circle cx="529.9" cy="1788.9" r="8.8"/><circle cx="536.1" cy="1788.0" r="8.8"/><circle cx="543.9" cy="1787.3" r="8.8"/><circle cx="549.9" cy="1785.5" r="8.8"/><circle cx="557.3" cy="1786.5" r="8.8"/><circle cx="564.3" cy="1784.9" r="8.8"/><circle cx="571.1" cy="1783.0" r="8.8"/><circle cx="577.5" cy="1783.9" r="8.8"/><circle cx="586.2" cy="1782.1" r="8.8"/><circle cx="593.0" cy="1782.1" r="8.8"/><circle cx="600.4" cy="1782.0" r="8.8"/><circle cx="606.2" cy="1781.2" r="8.8"/><circle cx="614.5" cy="1779.5" r="8.8"/><circle cx="621.3" cy="1778.4" r="8.8"/><circle cx="627.0" cy="1777.0" r="8.8"/><circle cx="635.2" cy="1776.0" r="8.8"/><circle cx="633.5" cy="1773.8" r="8.8"/><circle cx="628.2" cy="1773.2" r="8.8"/><circle cx="621.3" cy="1772.4" r="8.8"/><circle cx="612.9" cy="1773.2" r="8.8"/><circle cx="606.3" cy="1773.1" r="8.8"/><circle cx="598.7" cy="1772.3" r="8.8"/><circle cx="597.1" cy="1768.0" r="8.8"/><circle cx="591.6" cy="1763.9" r="8.8"/><circle cx="583.5" cy="1764.0" r="8.8"/><circle cx="577.3" cy="1762.3" r="8.8"/><circle cx="569.1" cy="1760.0" r="8.8"/><circle cx="564.1" cy="1760.6" r="8.8"/><circle cx="557.2" cy="1760.2" r="8.8"/><circle cx="549.1" cy="1760.1" r="8.8"/><circle cx="543.1" cy="1759.5" r="8.8"/><circle cx="535.4" cy="1759.4" r="8.8"/><circle cx="528.9" cy="1758.7" r="8.8"/><circle cx="521.7" cy="1761.0" r="8.8"/><circle cx="513.1" cy="1760.1" r="8.8"/><circle cx="507.6" cy="1760.8" r="8.8"/><circle cx="500.9" cy="1757.3" r="8.8"/><circle cx="497.9" cy="1752.8" r="8.8"/><circle cx="499.1" cy="1743.8" r="8.8"/><circle cx="497.2" cy="1736.7" r="8.8"/><circle cx="497.1" cy="1730.5" r="8.8"/><circle cx="497.4" cy="1724.5" r="8.8"/><circle cx="498.6" cy="1715.7" r="8.8"/><circle cx="497.8" cy="1712.3" r="8.8"/><circle cx="495.2" cy="1718.6" r="8.8"/><circle cx="491.9" cy="1725.0" r="8.8"/><circle cx="490.1" cy="1732.9" r="8.8"/><circle cx="488.6" cy="1738.1" r="8.8"/><circle cx="487.0" cy="1746.8" r="8.8"/><circle cx="485.2" cy="1753.3" r="8.8"/><circle cx="481.5" cy="1759.3" r="8.8"/><circle cx="478.8" cy="1766.4" r="8.8"/><circle cx="475.8" cy="1772.5" r="8.8"/><circle cx="472.8" cy="1778.7" r="8.8"/><circle cx="469.2" cy="1782.9" r="8.8"/><circle cx="462.8" cy="1785.3" r="8.8"/><circle cx="458.5" cy="1781.3" r="8.8"/><circle cx="455.5" cy="1775.2" r="8.8"/><circle cx="454.8" cy="1767.4" r="8.8"/><circle cx="452.1" cy="1761.6" r="8.8"/><circle cx="450.6" cy="1755.9" r="8.8"/><circle cx="448.2" cy="1748.4" r="8.8"/><circle cx="447.5" cy="1741.2" r="8.8"/><circle cx="445.3" cy="1734.9" r="8.8"/><circle cx="446.3" cy="1726.8" r="8.8"/><circle cx="443.6" cy="1721.5" r="8.8"/><circle cx="442.0" cy="1712.3" r="8.8"/><circle cx="440.8" cy="1707.2" r="8.8"/><circle cx="441.3" cy="1699.4" r="8.8"/><circle cx="439.0" cy="1691.7" r="8.8"/><circle cx="436.5" cy="1686.1" r="8.8"/><circle cx="434.0" cy="1680.6" r="8.8"/><circle cx="433.7" cy="1687.2" r="8.8"/><circle cx="432.8" cy="1694.8" r="8.8"/><circle cx="433.3" cy="1702.4" r="8.8"/><circle cx="434.7" cy="1709.5" r="8.8"/><circle cx="433.8" cy="1715.3" r="8.8"/><circle cx="433.6" cy="1722.9" r="8.8"/><circle cx="434.2" cy="1731.1" r="8.8"/><circle cx="432.9" cy="1736.9" r="8.8"/><circle cx="433.9" cy="1744.5" r="8.8"/><circle cx="432.7" cy="1751.1" r="8.8"/><circle cx="425.7" cy="1753.6" r="8.8"/><circle cx="418.8" cy="1754.0" r="8.8"/><circle cx="411.9" cy="1753.7" r="8.8"/><circle cx="403.8" cy="1754.5" r="8.8"/><circle cx="397.1" cy="1753.9" r="8.8"/><circle cx="391.2" cy="1754.9" r="8.8"/><circle cx="384.5" cy="1752.8" r="8.8"/><circle cx="375.9" cy="1753.7" r="8.8"/><circle cx="369.1" cy="1753.5" r="8.8"/><circle cx="362.5" cy="1753.5" r="8.8"/><circle cx="354.9" cy="1755.7" r="8.8"/><circle cx="348.9" cy="1754.8" r="8.8"/><circle cx="340.4" cy="1756.1" r="8.8"/><circle cx="334.8" cy="1754.5" r="8.8"/><circle cx="326.9" cy="1755.7" r="8.8"/><circle cx="320.7" cy="1755.0" r="8.8"/></g>
<g fill="#bbbbbb" fill-opacity="0.85"><circle cx="337.3" cy="1784.0" r="8.8"/><circle cx="660.2" cy="1771.4" r="8.8"/><circle cx="668.2" cy="1768.2" r="8.8"/><circle cx="595.5" cy="1756.0" r="8.8"/><circle cx="426.4" cy="1583.6" r="8.8"/><circle cx="430.0" cy="1644.5" r="8.8"/><circle cx="428.2" cy="1652.7" r="8.8"/><circle cx="424.5" cy="1655.0" r="8.8"/><circle cx="300.0" cy="1760.0" r="8.8"/></g>
<line x1="362.0" y1="1391.5" x2="404.0" y2="1391.5" stroke="#0000ff" stroke-width="16.0" stroke-linecap="round"/>
<g fill="#0000ff" fill-opacity="0.8"><circle cx="356.7" cy="1391.5" r="8.8"/><circle cx="367.0" cy="1391.5" r="8.8"/><circle cx="377.0" cy="1391.5" r="8.8"/><circle cx="386.0" cy="1391.5" r="8.8"/><circle cx="396.0" cy="1391.5" r="8.8"/><circle cx="409.7" cy="1391.5" r="8.8"/></g>
<g fill="#0000ff" fill-opacity="0.8"><circle cx="201.8" cy="1391.5" r="8.8"/><circle cx="393.6" cy="1446.4" r="8.8"/><circle cx="408.2" cy="1443.6" r="8.8"/><circle cx="417.3" cy="1447.3" r="8.8"/><circle cx="388.2" cy="1467.3" r="8.8"/><circle cx="408.2" cy="1466.4" r="8.8"/><circle cx="394.1" cy="1487.3" r="8.8"/><circle cx="361.4" cy="1504.5" r="8.8"/><circle cx="404.1" cy="1510.0" r="8.8"/><circle cx="415.9" cy="1505.5" r="8.8"/><circle cx="421.8" cy="1517.3" r="8.8"/><circle cx="405.5" cy="1550.9" r="8.8"/><circle cx="417.3" cy="1560.9" r="8.8"/><circle cx="385.9" cy="1569.0" r="8.8"/><circle cx="386.4" cy="1575.0" r="8.8"/><circle cx="408.2" cy="1570.0" r="8.8"/><circle cx="342.7" cy="1624.5" r="8.8"/><circle cx="390.9" cy="1603.6" r="8.8"/><circle cx="404.5" cy="1593.6" r="8.8"/><circle cx="416.4" cy="1612.7" r="8.8"/><circle cx="393.6" cy="1623.6" r="8.8"/><circle cx="398.2" cy="1635.5" r="8.8"/><circle cx="416.4" cy="1632.7" r="8.8"/><circle cx="424.5" cy="1632.7" r="8.8"/><circle cx="413.6" cy="1646.4" r="8.8"/><circle cx="388.2" cy="1650.9" r="8.8"/><circle cx="388.2" cy="1664.5" r="8.8"/><circle cx="406.4" cy="1665.5" r="8.8"/><circle cx="419.1" cy="1658.2" r="8.8"/><circle cx="386.4" cy="1681.8" r="8.8"/><circle cx="411.8" cy="1680.9" r="8.8"/><circle cx="344.5" cy="1682.7" r="8.8"/><circle cx="356.4" cy="1689.0" r="8.8"/><circle cx="421.0" cy="1590.0" r="8.8"/><circle cx="420.0" cy="1620.0" r="8.8"/><circle cx="220.5" cy="1714.0" r="8.8"/><circle cx="188.2" cy="1755.0" r="8.8"/><circle cx="259.8" cy="1747.7" r="8.8"/><circle cx="279.1" cy="1726.6" r="8.8"/><circle cx="290.9" cy="1752.7" r="8.8"/><circle cx="305.9" cy="1730.0" r="8.8"/><circle cx="314.3" cy="1736.8" r="8.8"/><circle cx="328.4" cy="1724.3" r="8.8"/><circle cx="333.6" cy="1708.4" r="8.8"/><circle cx="331.8" cy="1683.4" r="8.8"/><circle cx="359.8" cy="1719.8" r="8.8"/><circle cx="331.4" cy="1744.8" r="8.8"/><circle cx="345.0" cy="1736.8" r="8.8"/><circle cx="385.9" cy="1580.0" r="8.8"/><circle cx="420.0" cy="1634.5" r="8.8"/><circle cx="420.0" cy="1670.0" r="8.8"/><circle cx="420.0" cy="1700.0" r="8.8"/><circle cx="318.0" cy="1748.0" r="8.8"/><circle cx="407.0" cy="1574.0" r="8.8"/><circle cx="410.0" cy="1586.0" r="8.8"/><circle cx="413.0" cy="1608.0" r="8.8"/></g>
<g fill="#0000ff"><path d="M375.0,1703.5 L373.4,1717.4 L373.2,1718.1 L373.0,1718.8 L372.8,1719.5 L372.5,1720.2 L372.1,1720.8 L371.7,1721.4 L371.2,1721.9 L370.6,1722.4 L370.0,1722.9 L347.3,1738.8 L337.6,1745.6 L337.7,1745.8 L369.3,1744.1 L423.1,1737.9 L423.1,1696.7 L398.4,1692.7 L375.0,1703.5 Z"/><circle cx="376.4" cy="1702.5" r="8.8"/><circle cx="372.8" cy="1712.0" r="8.8"/><circle cx="372.4" cy="1716.3" r="8.8"/><circle cx="370.1" cy="1722.7" r="8.8"/><circle cx="365.1" cy="1726.3" r="8.8"/><circle cx="359.6" cy="1730.6" r="8.8"/><circle cx="352.7" cy="1736.5" r="8.8"/><circle cx="347.3" cy="1740.4" r="8.8"/><circle cx="341.6" cy="1741.9" r="8.8"/><circle cx="341.5" cy="1746.0" r="8.8"/><circle cx="346.8" cy="1744.4" r="8.8"/><circle cx="355.4" cy="1745.2" r="8.8"/><circle cx="362.6" cy="1745.4" r="8.8"/><circle cx="369.7" cy="1744.4" r="8.8"/><circle cx="375.9" cy="1743.8" r="8.8"/><circle cx="381.5" cy="1744.0" r="8.8"/><circle cx="388.6" cy="1742.7" r="8.8"/><circle cx="397.5" cy="1741.5" r="8.8"/><circle cx="402.0" cy="1741.2" r="8.8"/><circle cx="410.6" cy="1738.5" r="8.8"/><circle cx="415.7" cy="1738.7" r="8.8"/><circle cx="421.7" cy="1738.3" r="8.8"/><circle cx="423.1" cy="1730.1" r="8.8"/><circle cx="422.8" cy="1723.5" r="8.8"/><circle cx="424.3" cy="1715.4" r="8.8"/><circle cx="422.7" cy="1709.3" r="8.8"/><circle cx="422.5" cy="1702.3" r="8.8"/><circle cx="421.5" cy="1696.3" r="8.8"/><circle cx="415.0" cy="1695.4" r="8.8"/><circle cx="406.3" cy="1695.7" r="8.8"/><circle cx="400.2" cy="1692.9" r="8.8"/><circle cx="393.8" cy="1696.0" r="8.8"/><circle cx="389.1" cy="1697.7" r="8.8"/><circle cx="381.1" cy="1699.4" r="8.8"/></g>
<g fill="#ff0000"><circle cx="514.0" cy="1605.0" r="8.8"/><circle cx="528.0" cy="1607.0" r="8.8"/><circle cx="541.0" cy="1612.0" r="8.8"/><circle cx="555.0" cy="1618.0" r="8.8"/><circle cx="568.0" cy="1624.0" r="8.8"/><circle cx="578.0" cy="1630.0" r="8.8"/><circle cx="582.0" cy="1640.0" r="8.8"/><circle cx="521.0" cy="1622.0" r="8.8"/><circle cx="506.0" cy="1630.0" r="8.8"/></g>
<g fill="#ff0000"><path d="M510.5,1632.8 L509.9,1638.6 L508.9,1656.4 L507.6,1686.9 L508.9,1705.5 L508.9,1706.0 L508.9,1741.1 L509.1,1741.2 L549.7,1744.0 L574.3,1740.5 L578.8,1736.0 L574.6,1724.8 L574.5,1724.5 L571.1,1714.4 L559.8,1704.0 L547.9,1694.1 L547.3,1693.5 L546.8,1693.0 L546.4,1692.3 L546.0,1691.6 L545.6,1690.9 L545.4,1690.2 L545.2,1689.4 L545.1,1688.6 L545.1,1687.8 L545.1,1687.0 L545.3,1686.3 L545.5,1685.5 L545.8,1684.8 L546.1,1684.1 L546.6,1683.4 L547.0,1682.8 L551.6,1677.5 L550.2,1667.1 L550.1,1666.2 L550.1,1665.3 L550.2,1664.4 L552.2,1654.4 L552.4,1653.6 L552.7,1652.9 L553.1,1652.1 L553.5,1651.4 L554.0,1650.8 L554.6,1650.2 L555.2,1649.7 L555.9,1649.2 L562.7,1645.1 L563.2,1641.4 L557.5,1639.5 L556.7,1639.2 L555.9,1638.8 L555.2,1638.3 L543.8,1629.5 L521.6,1626.2 L510.5,1632.8 Z"/><circle cx="511.5" cy="1633.9" r="8.8"/><circle cx="510.8" cy="1638.8" r="8.8"/><circle cx="509.7" cy="1646.7" r="8.8"/><circle cx="509.1" cy="1653.1" r="8.8"/><circle cx="508.0" cy="1660.9" r="8.8"/><circle cx="507.7" cy="1668.0" r="8.8"/><circle cx="507.0" cy="1674.2" r="8.8"/><circle cx="508.3" cy="1682.1" r="8.8"/><circle cx="507.8" cy="1689.9" r="8.8"/><circle cx="507.9" cy="1695.3" r="8.8"/><circle cx="509.4" cy="1703.7" r="8.8"/><circle cx="509.3" cy="1710.8" r="8.8"/><circle cx="510.0" cy="1717.3" r="8.8"/><circle cx="509.5" cy="1724.4" r="8.8"/><circle cx="509.1" cy="1732.2" r="8.8"/><circle cx="508.5" cy="1737.9" r="8.8"/><circle cx="513.6" cy="1742.1" r="8.8"/><circle cx="521.0" cy="1741.9" r="8.8"/><circle cx="528.2" cy="1741.8" r="8.8"/><circle cx="534.1" cy="1742.6" r="8.8"/><circle cx="542.7" cy="1742.8" r="8.8"/><circle cx="548.1" cy="1743.0" r="8.8"/><circle cx="554.9" cy="1742.6" r="8.8"/><circle cx="563.2" cy="1742.9" r="8.8"/><circle cx="569.6" cy="1740.8" r="8.8"/><circle cx="575.8" cy="1738.1" r="8.8"/><circle cx="578.2" cy="1732.9" r="8.8"/><circle cx="574.5" cy="1725.2" r="8.8"/><circle cx="573.5" cy="1719.9" r="8.8"/><circle cx="570.6" cy="1712.6" r="8.8"/><circle cx="564.7" cy="1709.4" r="8.8"/><circle cx="559.6" cy="1704.7" r="8.8"/><circle cx="553.1" cy="1700.2" r="8.8"/><circle cx="547.4" cy="1694.3" r="8.8"/><circle cx="544.0" cy="1689.3" r="8.8"/><circle cx="548.0" cy="1683.3" r="8.8"/><circle cx="552.2" cy="1677.7" r="8.8"/><circle cx="550.6" cy="1670.8" r="8.8"/><circle cx="551.2" cy="1662.2" r="8.8"/><circle cx="553.1" cy="1655.4" r="8.8"/><circle cx="554.6" cy="1648.6" r="8.8"/><circle cx="561.3" cy="1645.2" r="8.8"/><circle cx="562.6" cy="1642.0" r="8.8"/><circle cx="554.4" cy="1637.2" r="8.8"/><circle cx="549.5" cy="1633.1" r="8.8"/><circle cx="543.9" cy="1630.3" r="8.8"/><circle cx="536.3" cy="1628.3" r="8.8"/><circle cx="530.8" cy="1627.3" r="8.8"/><circle cx="522.5" cy="1627.4" r="8.8"/><circle cx="517.3" cy="1630.1" r="8.8"/></g>
<g fill="#ff0000" fill-opacity="0.81"><circle cx="583.0" cy="1632.0" r="8.8"/><circle cx="582.0" cy="1643.0" r="8.8"/><circle cx="566.0" cy="1652.0" r="8.8"/><circle cx="573.0" cy="1692.0" r="8.8"/><circle cx="586.0" cy="1707.0" r="8.8"/><circle cx="591.0" cy="1721.0" r="8.8"/><circle cx="597.0" cy="1735.0" r="8.8"/><circle cx="587.0" cy="1745.0" r="8.8"/><circle cx="581.0" cy="1750.0" r="8.8"/><circle cx="575.0" cy="1655.0" r="8.8"/><circle cx="565.0" cy="1740.0" r="8.8"/></g>
<path d="M557,1724 L568,1726 L561,1733 Z" fill="#fff" stroke="#fff" stroke-width="3" stroke-linejoin="round"/>
<g fill="#ff0000" fill-opacity="0.81"><circle cx="588.2" cy="1603.3" r="8.8"/><circle cx="618.5" cy="1603.3" r="8.8"/><circle cx="620.9" cy="1632.4" r="8.8"/><circle cx="577.9" cy="1672.4" r="8.8"/><circle cx="585.8" cy="1673.6" r="8.8"/><circle cx="594.2" cy="1682.1" r="8.8"/><circle cx="617.3" cy="1710.0" r="8.8"/><circle cx="590.6" cy="1736.7" r="8.8"/><circle cx="558.0" cy="1391.2" r="8.8"/><circle cx="564.8" cy="1391.2" r="8.8"/><circle cx="583.8" cy="1391.2" r="8.8"/><circle cx="560.3" cy="1425.3" r="8.8"/><circle cx="558.8" cy="1432.1" r="8.8"/><circle cx="566.4" cy="1441.2" r="8.8"/><circle cx="580.8" cy="1432.1" r="8.8"/><circle cx="592.9" cy="1425.3" r="8.8"/><circle cx="598.2" cy="1453.3" r="8.8"/><circle cx="548.2" cy="1465.5" r="8.8"/><circle cx="548.9" cy="1482.9" r="8.8"/><circle cx="542.1" cy="1486.7" r="8.8"/><circle cx="541.4" cy="1509.4" r="8.8"/><circle cx="558.8" cy="1511.7" r="8.8"/><circle cx="545.2" cy="1524.5" r="8.8"/><circle cx="561.0" cy="1519.2" r="8.8"/><circle cx="589.8" cy="1510.2" r="8.8"/><circle cx="547.4" cy="1553.3" r="8.8"/><circle cx="554.2" cy="1566.2" r="8.8"/><circle cx="591.4" cy="1573.0" r="8.8"/><circle cx="561.0" cy="1582.1" r="8.8"/><circle cx="566.4" cy="1587.4" r="8.8"/><circle cx="542.1" cy="1588.2" r="8.8"/><circle cx="555.8" cy="1596.5" r="8.8"/><circle cx="520.9" cy="1598.8" r="8.8"/><circle cx="527.0" cy="1604.1" r="8.8"/><circle cx="537.6" cy="1606.4" r="8.8"/></g>
<circle cx="331.8" cy="1683.4" r="9" fill="none" stroke="#000" stroke-width="1.3"/>
<circle cx="517.3" cy="1748.2" r="9" fill="none" stroke="#000" stroke-width="1.3"/>
<line x1="304.1" y1="1668.6" x2="324.5" y2="1683.4" stroke="#000" stroke-width="1.2"/>
<line x1="527.6" y1="1713.6" x2="516.0" y2="1740.3" stroke="#000" stroke-width="1.2"/>
<text x="254.1" y="1670.9" font-size="24" fill="#000" font-style="italic" >hisD</text>
<text x="511.5" y="1704.0" font-size="24" fill="#000" font-style="italic" >pcrA</text>
</g>
<line x1="425.2" y1="1372.0" x2="425.2" y2="1810.0" stroke="#666" stroke-width="1.6" stroke-dasharray="4.3,4"/>
<line x1="505.2" y1="1372.0" x2="505.2" y2="1810.0" stroke="#666" stroke-width="1.6" stroke-dasharray="4.3,4"/>
<line x1="113.3" y1="1755.4" x2="817.0" y2="1755.4" stroke="#666" stroke-width="1.6" stroke-dasharray="4.3,4"/>
<text x="336.5" y="1871.2" font-size="29.5" fill="#1a1a1a">Fold Change (Log<tspan font-size="22" dy="6">2</tspan><tspan dy="-6">)</tspan></text>
<text x="58.2" y="1733" font-size="29.8" fill="#1a1a1a" transform="rotate(-90 58.2 1733)">Significance (−Log<tspan font-size="21" dy="5">10</tspan><tspan dy="-5">)</tspan></text>
<text x="115.8" y="1740.2" font-size="27.1" fill="#000" >p&lt;0.05</text>
<rect x="116.5" y="1451.0" width="167.6" height="164.6" fill="none" stroke="#d0d0d0" stroke-width="1.4"/>
<text x="121.4" y="1477.8" font-size="26.3" fill="#000" >Total-2932</text>
<text x="121.4" y="1509.5" font-size="26.3" fill="#000" >Up-1602</text>
<text x="121.4" y="1541.2" font-size="26.3" fill="#000" >Down-1330</text>
<circle cx="130.7" cy="1567.3" r="8.9" fill="#ff0000"/>
<text x="143.3" y="1572.6" font-size="26.3" fill="#000" >-206</text>
<circle cx="130.7" cy="1598.0" r="8.9" fill="#0000ff"/>
<text x="143.3" y="1604.4" font-size="26.3" fill="#000" >-185</text>
<line x1="873.2" y1="1350.5" x2="873.2" y2="1827.8" stroke="#d9d9d9" stroke-width="1.2"/>
<line x1="1021.0" y1="1375.9" x2="1230.0" y2="1375.9" stroke="#d9d9d9" stroke-width="1.5"/>
<text x="995.9" y="1384.9" font-size="27" fill="#000" font-weight="bold" text-anchor="end" >2.0</text>
<line x1="1021.0" y1="1408.6" x2="1230.0" y2="1408.6" stroke="#d9d9d9" stroke-width="1.5"/>
<text x="995.9" y="1417.6" font-size="27" fill="#000" font-weight="bold" text-anchor="end" >1.0</text>
<line x1="1021.0" y1="1441.3" x2="1230.0" y2="1441.3" stroke="#d9d9d9" stroke-width="1.5"/>
<text x="995.9" y="1450.3" font-size="27" fill="#000" font-weight="bold" text-anchor="end" >0.0</text>
<line x1="1021.0" y1="1474.0" x2="1230.0" y2="1474.0" stroke="#d9d9d9" stroke-width="1.5"/>
<text x="995.9" y="1483.0" font-size="27" fill="#000" font-weight="bold" text-anchor="end" >-1.0</text>
<line x1="1021.0" y1="1506.7" x2="1230.0" y2="1506.7" stroke="#d9d9d9" stroke-width="1.5"/>
<text x="995.9" y="1515.7" font-size="27" fill="#000" font-weight="bold" text-anchor="end" >-2.0</text>
<line x1="1021.0" y1="1539.4" x2="1230.0" y2="1539.4" stroke="#d9d9d9" stroke-width="1.5"/>
<text x="995.9" y="1548.4" font-size="27" fill="#000" font-weight="bold" text-anchor="end" >-3.0</text>
<line x1="1021.0" y1="1572.1" x2="1230.0" y2="1572.1" stroke="#d9d9d9" stroke-width="1.5"/>
<text x="995.9" y="1581.1" font-size="27" fill="#000" font-weight="bold" text-anchor="end" >-4.0</text>
<line x1="1021.0" y1="1604.8" x2="1230.0" y2="1604.8" stroke="#d9d9d9" stroke-width="1.5"/>
<text x="995.9" y="1613.8" font-size="27" fill="#000" font-weight="bold" text-anchor="end" >-5.0</text>
<line x1="1021.0" y1="1637.4" x2="1230.0" y2="1637.4" stroke="#d9d9d9" stroke-width="1.5"/>
<text x="995.9" y="1646.4" font-size="27" fill="#000" font-weight="bold" text-anchor="end" >-6.0</text>
<line x1="1021.0" y1="1670.1" x2="1230.0" y2="1670.1" stroke="#d9d9d9" stroke-width="1.5"/>
<text x="995.9" y="1679.1" font-size="27" fill="#000" font-weight="bold" text-anchor="end" >-7.0</text>
<line x1="1021.0" y1="1702.8" x2="1230.0" y2="1702.8" stroke="#d9d9d9" stroke-width="1.5"/>
<text x="995.9" y="1711.8" font-size="27" fill="#000" font-weight="bold" text-anchor="end" >-8.0</text>
<line x1="1021.0" y1="1735.5" x2="1230.0" y2="1735.5" stroke="#d9d9d9" stroke-width="1.5"/>
<text x="995.9" y="1744.5" font-size="27" fill="#000" font-weight="bold" text-anchor="end" >-9.0</text>
<rect x="1057.6" y="1408.0" width="32.4" height="33.3" fill="#ff0000"/>
<line x1="1073.8" y1="1408.0" x2="1073.8" y2="1402.7" stroke="#666" stroke-width="1.6"/>
<line x1="1068.8" y1="1402.7" x2="1078.8" y2="1402.7" stroke="#666" stroke-width="1.6"/>
<rect x="1162.4" y="1441.3" width="32.1" height="211.7" fill="#0000ff"/>
<line x1="1178.5" y1="1653.0" x2="1178.5" y2="1690.5" stroke="#666" stroke-width="1.6"/>
<line x1="1173.5" y1="1690.5" x2="1183.5" y2="1690.5" stroke="#666" stroke-width="1.6"/>
<text x="1178.5" y="1716.0" font-size="30" fill="#000" font-weight="bold" text-anchor="middle" >*</text>
<text x="905" y="1685" font-size="26.5" font-weight="bold" transform="rotate(-90 905 1685)">Fold change of gene</text>
<text x="937" y="1662.3" font-size="26.5" font-weight="bold" transform="rotate(-90 937 1662.3)">expression (log<tspan font-size="18" dy="4">2</tspan><tspan dy="-4">)</tspan></text>
<text x="1080.8" y="1769" font-size="26" font-weight="bold" font-style="italic" text-anchor="end" transform="rotate(-45 1080.8 1769)">pcrA</text>
<text x="1185.3" y="1767.6" font-size="26" font-weight="bold" font-style="italic" text-anchor="end" transform="rotate(-45 1185.3 1767.6)">hisD</text>
</svg>
</body></html>
